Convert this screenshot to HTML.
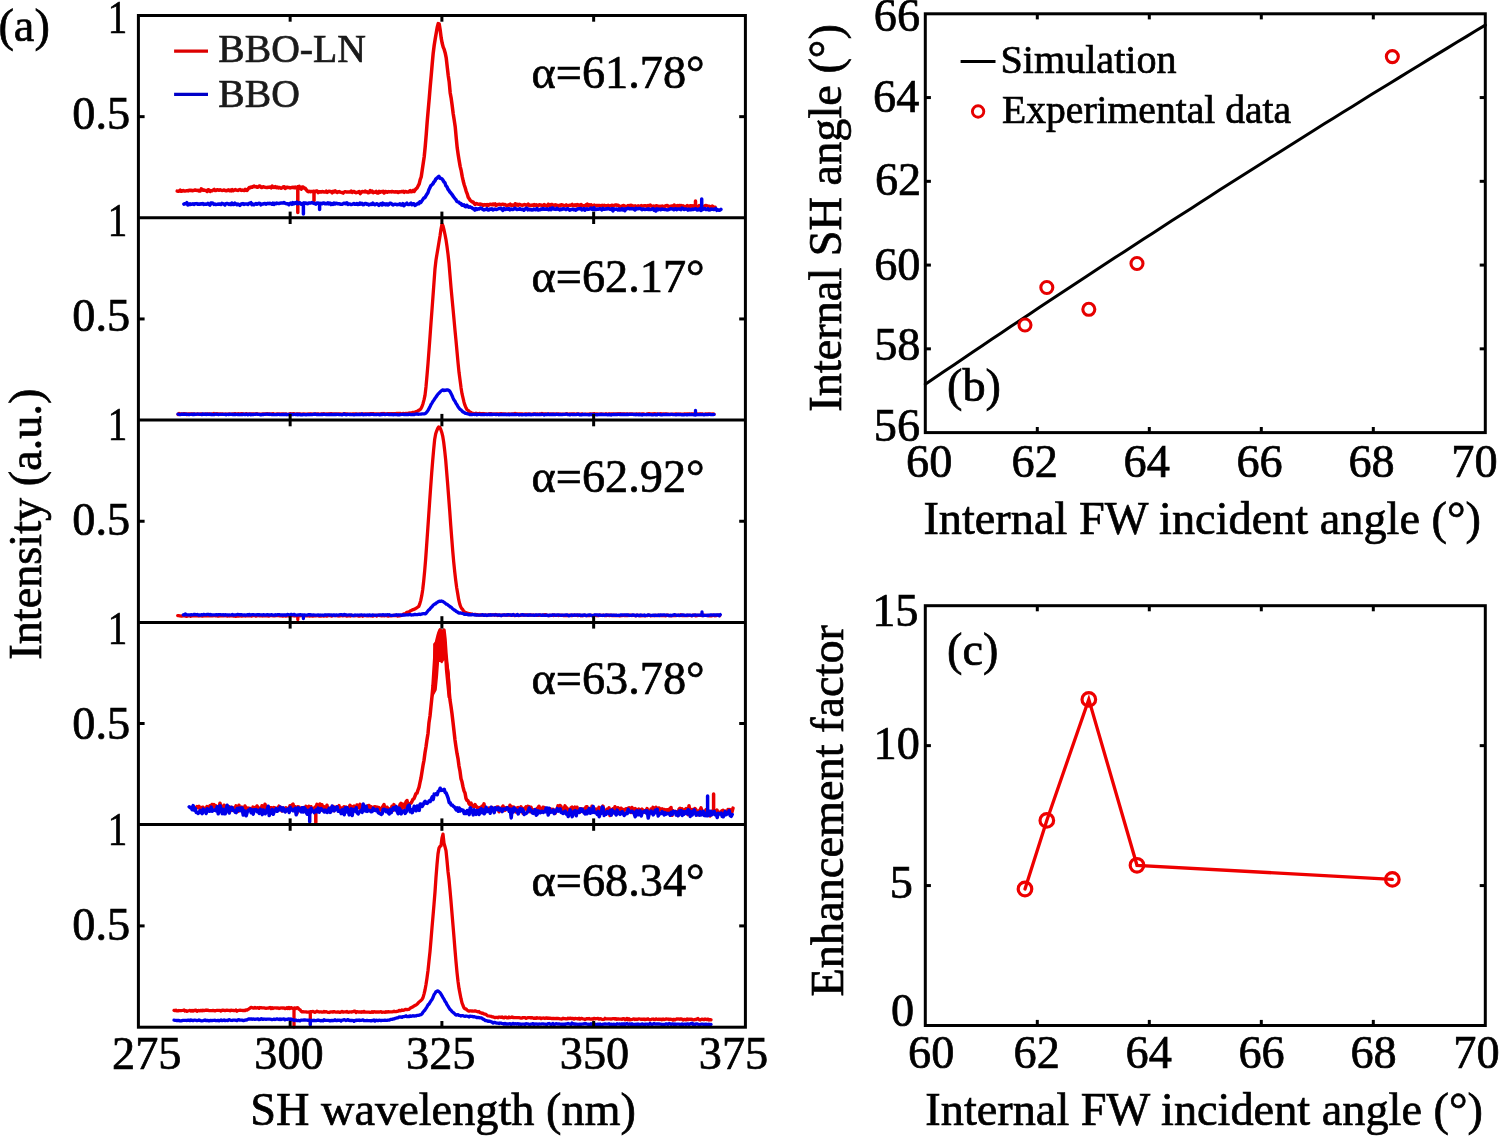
<!DOCTYPE html>
<html><head><meta charset="utf-8"><style>
html,body{margin:0;padding:0;background:#fff;}
svg{display:block;will-change:transform;}
text{font-family:"Liberation Serif",serif;}
</style></head><body>
<svg width="1500" height="1136" viewBox="0 0 1500 1136">
<rect width="1500" height="1136" fill="#fff"/>
<polyline points="177.2,191.1 178.2,191.3 179.2,191.0 180.2,190.1 181.2,191.3 182.2,191.0 183.2,190.4 184.2,191.0 185.2,190.9 186.2,190.8 187.2,190.6 188.2,190.9 189.2,190.2 190.2,190.5 191.2,190.3 192.2,190.8 193.2,190.5 194.2,190.3 195.2,190.0 196.2,190.3 197.2,190.4 198.2,190.3 199.2,191.1 200.2,191.0 201.2,188.9 202.2,189.3 203.2,190.3 204.2,190.1 205.2,190.5 206.2,190.5 207.2,191.5 208.2,189.7 209.2,190.1 210.2,191.5 211.2,190.7 212.2,190.7 213.2,190.1 214.2,189.4 215.2,190.4 216.2,190.4 217.2,189.7 218.2,190.0 219.2,190.3 220.2,189.8 221.2,190.3 222.2,190.4 223.2,190.3 224.2,190.0 225.2,190.6 226.2,190.8 227.2,190.5 228.2,189.9 229.2,190.7 230.2,190.0 231.2,190.8 232.2,189.7 233.2,190.8 234.2,190.3 235.2,189.6 236.2,190.1 237.2,190.3 238.2,190.4 239.2,189.7 240.2,189.6 241.2,190.4 242.2,190.0 243.2,190.4 244.2,190.6 245.2,189.3 246.2,190.3 247.2,190.4 248.2,188.8 249.2,187.6 250.2,187.7 251.2,187.0 252.2,187.3 253.2,186.6 254.2,186.0 255.2,186.8 256.2,186.6 257.2,187.3 258.2,187.0 259.2,186.0 260.2,186.3 261.2,187.4 262.2,187.4 263.2,186.7 264.2,187.1 265.2,187.3 266.2,187.4 267.2,187.6 268.2,187.3 269.2,187.2 270.2,187.1 271.2,187.9 272.2,186.1 273.2,187.3 274.2,187.4 275.2,186.6 276.2,187.6 277.2,187.1 278.2,187.9 279.2,187.4 280.2,187.9 281.2,188.2 282.2,187.7 283.2,187.0 284.2,186.7 285.2,188.5 286.2,187.5 287.2,187.2 288.2,187.6 289.2,187.5 290.2,188.0 291.2,187.6 292.2,187.6 293.2,187.2 294.2,187.8 295.2,187.0 296.2,188.0 297.2,188.4 297.8,186.8 297.8,212.6 297.8,186.8 299.2,186.3 300.2,188.0 301.2,189.1 302.2,187.1 303.2,187.0 304.2,188.2 305.2,188.3 306.2,189.8 307.2,190.9 308.2,191.8 309.2,191.3 310.2,191.7 311.2,191.5 314.0,191.2 314.0,200.8 314.0,191.2 313.2,191.5 314.2,191.2 315.2,191.7 316.2,191.1 317.2,191.1 318.2,192.6 319.2,191.8 320.2,191.8 321.2,192.1 322.2,191.6 323.2,191.7 324.2,192.1 325.2,192.0 326.2,191.2 327.2,192.4 328.2,191.6 329.2,191.3 330.2,191.4 331.2,191.7 332.2,192.8 333.2,191.3 334.2,192.0 335.2,190.8 336.2,192.0 337.2,192.5 338.2,191.8 339.2,191.6 340.2,192.1 341.2,192.4 342.2,192.4 343.2,193.1 344.2,192.1 345.2,191.7 346.2,191.9 347.2,192.0 348.2,192.1 349.2,192.0 350.2,192.1 351.2,191.1 352.2,192.5 353.2,191.7 354.2,191.4 355.2,192.4 356.2,192.7 357.2,192.3 358.2,192.1 359.2,191.5 360.2,193.6 361.2,192.5 362.2,191.4 363.2,191.6 364.2,192.0 365.2,191.1 366.2,192.1 367.2,191.7 368.2,192.7 369.2,192.5 370.2,190.5 371.2,192.0 372.2,191.1 373.2,192.6 374.2,192.1 375.2,192.3 376.2,191.4 377.2,193.0 378.2,193.1 379.2,191.4 380.2,192.2 381.2,191.6 382.2,192.0 383.2,191.3 384.2,193.0 385.2,191.5 386.2,191.8 387.2,192.3 388.2,191.6 389.2,191.9 390.2,191.7 391.2,191.9 392.2,191.4 393.2,191.8 394.2,191.9 395.2,191.8 396.2,192.0 397.2,191.8 398.2,192.4 399.2,191.8 400.2,191.9 401.2,191.6 402.2,191.7 403.2,191.3 404.2,192.3 405.2,191.4 406.2,191.6 407.2,192.1 408.2,192.1 409.2,191.6 410.2,190.6 411.2,191.8 412.2,191.5 413.2,190.4 414.2,191.4 415.2,189.9 416.2,188.6 417.2,187.8 418.2,185.8 419.2,183.9 420.2,179.7 421.2,177.0 422.2,170.2 423.2,163.5 424.2,156.7 425.2,146.8 426.2,134.9 427.2,121.6 428.2,110.2 429.2,98.9 430.2,86.7 431.2,75.7 432.2,64.0 433.2,53.2 434.2,45.3 435.2,39.0 436.2,33.2 437.2,27.5 438.2,23.6 439.2,23.9 440.2,30.2 441.2,38.1 442.2,43.3 443.2,47.1 444.2,49.4 445.2,52.9 446.2,57.8 447.2,66.6 448.2,75.3 449.2,82.1 450.2,93.0 451.2,98.4 452.2,105.7 453.2,113.7 454.2,120.1 455.2,126.7 456.2,137.6 457.2,147.8 458.2,154.8 459.2,160.9 460.2,166.6 461.2,170.7 462.2,176.4 463.2,181.0 464.2,184.7 465.2,187.7 466.2,191.3 467.2,193.8 468.2,197.2 469.2,198.7 470.2,200.4 471.2,201.1 472.2,202.0 473.2,202.1 474.2,203.4 475.2,204.4 476.2,203.6 477.2,203.7 478.2,204.2 479.2,204.2 480.2,204.1 481.2,204.6 482.2,204.4 483.2,205.4 484.2,204.6 485.2,204.8 486.2,205.2 487.2,204.5 488.2,205.5 489.2,204.4 490.2,204.3 491.2,204.5 492.2,204.7 493.2,204.0 494.2,204.7 495.2,203.8 496.2,205.5 497.2,204.7 498.2,204.4 499.2,204.3 500.2,204.6 501.2,204.7 502.2,204.2 503.2,204.3 504.2,204.7 505.2,204.6 506.2,205.4 507.2,205.5 508.2,204.9 509.2,205.1 510.2,204.2 511.2,205.3 512.2,204.9 513.2,205.2 514.2,205.8 515.2,203.7 516.2,205.1 517.2,204.4 518.2,205.3 519.2,204.3 520.2,204.7 521.2,205.1 522.2,205.3 523.2,205.0 524.2,204.6 525.2,204.7 526.2,205.5 527.2,205.0 528.2,204.1 529.2,205.5 530.2,205.3 531.2,205.5 532.2,204.9 533.2,205.5 534.2,204.5 535.2,205.4 536.2,204.8 537.2,205.5 538.2,205.7 539.2,204.7 540.2,205.1 541.2,205.1 542.2,205.8 543.2,205.5 544.2,204.5 545.2,205.4 546.2,205.6 547.2,206.3 548.2,204.2 549.2,204.9 550.2,205.9 551.2,204.4 552.2,204.5 553.2,205.5 554.2,205.8 555.2,204.8 556.2,205.5 557.2,205.3 558.2,206.1 559.2,205.2 560.2,205.8 561.2,204.7 562.2,205.1 563.2,205.2 564.2,205.9 565.2,205.6 566.2,204.9 567.2,205.7 568.2,205.7 569.2,205.2 570.2,205.2 571.2,205.2 572.2,204.4 573.2,205.4 574.2,205.4 575.2,204.8 576.2,205.7 577.2,204.6 578.2,205.0 579.2,205.1 580.2,206.4 581.2,204.5 582.2,205.7 583.2,205.9 584.2,205.6 585.2,206.0 586.2,204.8 587.2,204.1 588.2,205.8 589.2,204.8 590.2,205.2 591.2,204.8 592.2,206.0 593.2,205.9 594.2,205.1 595.2,206.0 596.2,205.5 597.2,205.4 598.2,205.5 599.2,205.4 600.2,205.8 601.2,205.7 602.2,205.3 603.2,206.1 604.2,205.2 605.2,205.7 606.2,205.8 607.2,206.4 608.2,205.3 609.2,206.5 610.2,205.7 611.2,205.5 612.2,205.2 613.2,205.9 614.2,205.6 615.2,205.0 616.2,205.0 617.2,205.3 618.2,205.3 619.2,206.3 620.2,206.4 621.2,206.2 622.2,205.9 623.2,205.5 624.2,205.7 625.2,206.2 626.2,206.9 627.2,206.2 628.2,205.6 629.2,205.8 630.2,205.5 631.2,205.3 632.2,205.7 633.2,205.9 634.2,206.8 635.2,205.8 636.2,206.6 637.2,206.8 638.2,205.9 639.2,206.7 640.2,206.3 641.2,205.6 642.2,206.0 643.2,205.9 644.2,205.8 645.2,205.8 646.2,206.0 647.2,206.2 648.2,205.5 649.2,205.9 650.2,205.1 651.2,206.1 652.2,206.3 653.2,206.1 654.2,206.2 655.2,206.3 656.2,205.7 657.2,205.9 658.2,206.3 659.2,206.6 660.2,206.3 661.2,207.5 662.2,206.0 663.2,206.6 664.2,206.8 665.2,206.0 666.2,205.7 667.2,205.5 668.2,206.2 669.2,206.8 670.2,206.3 671.2,206.3 672.2,206.0 673.2,206.5 674.2,205.0 675.2,206.4 676.2,206.3 677.2,205.5 678.2,207.5 679.2,205.5 680.2,205.7 681.2,205.6 682.2,206.9 683.2,205.8 684.2,206.7 685.2,206.7 686.2,206.5 687.2,205.6 688.2,206.0 689.2,207.3 690.2,205.7 695.5,206.0 695.5,201.0 695.5,206.0 692.2,206.3 693.2,206.9 694.2,206.6 695.2,206.9 696.2,205.9 697.2,207.0 698.2,206.8 699.2,205.6 700.2,207.4 701.2,207.8 702.2,206.1 703.2,206.6 704.2,207.3 705.2,205.8 706.2,205.5 707.2,205.9 708.2,206.3 709.2,206.3 710.2,207.0 711.2,206.8 712.2,206.0 713.2,207.0 714.2,207.7 715.2,207.3" fill="none" stroke="#ea0000" stroke-width="3.5" stroke-linejoin="round" stroke-linecap="round"/>
<polyline points="183.9,204.1 184.9,203.7 185.9,203.8 186.9,202.7 187.9,205.0 188.9,204.6 189.9,203.8 190.9,204.4 191.9,204.2 192.9,203.7 193.9,204.5 194.9,203.8 195.9,203.8 196.9,203.6 197.9,204.3 198.9,203.9 199.9,204.3 200.9,203.7 201.9,204.1 202.9,203.5 203.9,204.5 204.9,204.1 205.9,204.2 206.9,204.2 207.9,203.4 208.9,204.4 209.9,205.1 210.9,203.1 211.9,203.0 212.9,203.2 213.9,204.5 214.9,204.1 215.9,204.6 216.9,204.4 217.9,204.1 218.9,204.2 219.9,203.9 220.9,204.5 221.9,203.4 222.9,203.8 223.9,204.1 224.9,205.0 225.9,203.6 226.9,203.4 227.9,203.7 228.9,204.5 229.9,203.9 230.9,204.7 231.9,203.0 232.9,204.6 233.9,204.6 234.9,203.2 235.9,204.1 236.9,204.7 237.9,204.0 238.9,204.5 239.9,205.3 240.9,204.2 241.9,203.8 242.9,203.6 243.9,204.4 244.9,203.9 245.9,203.9 246.9,203.9 247.9,204.4 248.9,203.4 249.9,203.2 250.9,202.7 251.9,204.7 252.9,204.0 253.9,204.8 254.9,204.0 255.9,203.6 256.9,204.2 257.9,203.9 258.9,203.2 259.9,203.4 260.9,204.9 261.9,204.1 262.9,204.1 263.9,203.7 264.9,203.4 265.9,204.3 266.9,203.7 267.9,203.3 268.9,203.7 269.9,203.2 270.9,203.8 271.9,204.3 272.9,203.2 273.9,204.4 274.9,203.2 275.9,203.7 276.9,203.1 277.9,203.4 278.9,203.5 279.9,203.2 280.9,203.1 281.9,203.1 282.9,203.0 283.9,202.5 284.9,203.2 285.9,203.6 286.9,203.8 287.9,203.7 288.9,204.7 289.9,203.5 290.9,203.0 291.9,204.3 292.9,202.7 293.9,203.8 294.9,202.7 295.9,203.4 296.9,202.1 297.9,203.7 298.9,203.1 299.9,202.7 300.9,204.1 301.9,203.6 303.4,203.2 303.4,213.9 303.4,203.2 303.9,202.8 304.9,203.2 305.9,203.1 306.9,203.6 307.9,203.7 308.9,202.9 309.9,203.0 310.9,203.0 311.9,202.6 312.9,203.0 313.9,203.3 314.9,203.7 315.9,204.1 316.9,202.9 319.6,203.7 319.6,209.5 319.6,203.7 318.9,203.2 319.9,204.6 320.9,203.4 321.9,203.8 322.9,203.0 323.9,203.1 324.9,203.7 325.9,203.4 326.9,203.8 327.9,202.8 328.9,204.0 329.9,203.2 330.9,204.6 331.9,203.5 332.9,204.3 333.9,203.0 334.9,204.0 335.9,203.3 336.9,203.5 337.9,203.8 338.9,203.7 339.9,204.0 340.9,204.3 341.9,204.3 342.9,203.9 343.9,203.2 344.9,203.5 345.9,203.8 346.9,202.8 347.9,204.4 348.9,203.9 349.9,203.9 350.9,204.5 351.9,204.4 352.9,204.1 353.9,203.5 354.9,204.2 355.9,204.2 356.9,203.6 357.9,204.6 358.9,204.4 359.9,203.0 360.9,204.2 361.9,203.4 362.9,204.7 363.9,204.6 364.9,203.5 365.9,203.6 366.9,204.2 367.9,204.0 368.9,205.0 369.9,204.6 370.9,204.0 371.9,204.5 372.9,203.1 373.9,204.4 374.9,204.7 375.9,204.1 376.9,203.8 377.9,204.5 378.9,205.3 379.9,204.3 380.9,203.6 381.9,205.0 382.9,203.2 383.9,204.5 384.9,203.9 385.9,204.8 386.9,203.8 387.9,205.0 388.9,204.4 389.9,203.3 390.9,203.2 391.9,204.1 392.9,205.0 393.9,204.4 394.9,204.3 395.9,204.2 396.9,204.7 397.9,204.5 398.9,204.4 399.9,203.8 400.9,205.0 401.9,205.0 402.9,203.6 403.9,205.6 404.9,204.7 405.9,204.0 406.9,203.2 407.9,204.6 408.9,204.5 409.9,203.9 410.9,203.2 411.9,204.7 412.9,203.7 413.9,203.7 414.9,205.4 415.9,205.0 416.9,204.2 417.9,203.3 418.9,203.8 419.9,201.9 420.9,202.4 421.9,200.9 422.9,199.4 423.9,197.9 424.9,197.7 425.9,195.9 426.9,194.2 427.9,192.7 428.9,189.8 429.9,187.7 430.9,185.6 431.9,184.8 432.9,183.9 433.9,181.9 434.9,180.9 435.9,178.9 436.9,178.2 437.9,177.2 438.9,176.4 439.9,178.2 440.9,178.4 441.9,178.8 442.9,180.1 443.9,181.9 444.9,182.8 445.9,185.8 446.9,186.7 447.9,189.1 448.9,190.4 449.9,192.1 450.9,193.1 451.9,194.3 452.9,195.9 453.9,197.2 454.9,198.5 455.9,199.7 456.9,201.5 457.9,201.9 458.9,202.2 459.9,203.5 460.9,203.4 461.9,205.2 462.9,205.3 463.9,204.8 464.9,206.4 465.9,206.8 466.9,205.3 467.9,206.7 468.9,207.2 469.9,206.7 470.9,207.4 471.9,207.7 472.9,208.7 473.9,208.8 474.9,210.1 475.9,208.5 476.9,209.4 477.9,208.9 478.9,209.1 479.9,208.3 480.9,208.0 481.9,208.6 482.9,209.5 483.9,210.0 484.9,209.5 485.9,209.4 486.9,208.7 487.9,210.0 488.9,209.9 489.9,208.9 490.9,209.2 491.9,208.7 492.9,210.0 493.9,209.4 494.9,209.1 495.9,209.4 496.9,209.4 497.9,209.0 498.9,208.5 499.9,208.5 500.9,208.2 501.9,209.5 502.9,210.4 503.9,208.3 504.9,209.3 505.9,209.4 506.9,208.7 507.9,209.3 508.9,208.6 509.9,209.9 510.9,208.9 511.9,209.3 512.9,209.6 513.9,209.0 514.9,208.2 515.9,208.9 516.9,209.6 517.9,209.2 518.9,209.3 519.9,208.6 520.9,209.3 521.9,209.6 522.9,209.2 523.9,210.2 524.9,209.1 525.9,208.6 526.9,208.3 527.9,209.8 528.9,209.2 529.9,209.8 530.9,209.5 531.9,210.1 532.9,209.9 533.9,209.0 534.9,209.4 535.9,209.8 536.9,208.5 537.9,210.0 538.9,209.9 539.9,209.7 540.9,209.1 541.9,209.4 542.9,208.6 543.9,209.2 544.9,208.9 545.9,209.2 546.9,208.9 547.9,209.4 548.9,209.8 549.9,208.5 550.9,209.7 551.9,208.1 552.9,208.0 553.9,209.1 554.9,209.2 555.9,209.4 556.9,208.3 557.9,209.2 558.9,209.3 559.9,209.9 560.9,209.1 561.9,209.5 562.9,208.7 563.9,209.1 564.9,209.0 565.9,209.6 566.9,208.7 567.9,208.7 568.9,209.5 569.9,210.2 570.9,209.4 571.9,209.4 572.9,209.0 573.9,209.8 574.9,209.5 575.9,210.2 576.9,209.4 577.9,208.7 578.9,208.9 579.9,208.7 580.9,208.5 581.9,209.9 582.9,209.6 583.9,208.5 584.9,210.2 585.9,209.3 586.9,208.7 587.9,209.4 588.9,209.2 589.9,208.8 590.9,208.1 591.9,209.2 592.9,209.4 593.9,207.8 594.9,209.5 595.9,209.5 596.9,208.9 597.9,209.3 598.9,209.0 599.9,208.7 600.9,209.0 601.9,209.9 602.9,208.4 603.9,209.3 604.9,209.3 605.9,208.8 606.9,209.0 607.9,208.4 608.9,208.7 609.9,209.2 610.9,209.4 611.9,208.7 612.9,210.9 613.9,208.9 614.9,209.3 615.9,209.1 616.9,209.0 617.9,209.9 618.9,208.9 619.9,209.9 620.9,209.8 621.9,208.6 622.9,209.8 623.9,208.9 624.9,210.7 625.9,209.0 626.9,208.7 627.9,208.2 628.9,208.5 629.9,208.9 630.9,208.7 631.9,208.6 632.9,208.8 633.9,209.1 634.9,210.0 635.9,208.3 636.9,208.9 637.9,208.7 638.9,208.4 639.9,208.5 640.9,208.7 641.9,209.6 642.9,209.1 643.9,209.0 644.9,209.6 645.9,209.4 646.9,209.1 647.9,209.5 648.9,208.8 649.9,209.6 650.9,209.5 651.9,209.0 652.9,208.6 653.9,210.1 654.9,209.3 655.9,211.0 656.9,208.9 657.9,209.8 658.9,209.0 659.9,209.4 660.9,209.8 661.9,208.9 662.9,209.2 663.9,209.4 664.9,209.4 665.9,209.6 666.9,209.9 667.9,209.8 668.9,209.5 669.9,209.1 670.9,208.7 671.9,208.9 672.9,209.0 673.9,209.7 674.9,209.1 675.9,208.7 676.9,209.7 677.9,208.9 678.9,208.9 679.9,209.2 680.9,209.6 681.9,208.0 682.9,208.7 683.9,209.5 684.9,209.2 685.9,208.9 686.9,209.1 687.9,210.1 688.9,209.1 689.9,209.8 690.9,209.8 691.9,209.1 692.9,209.6 693.9,209.2 694.9,209.1 695.9,208.8 696.9,209.9 701.7,209.2 701.7,199.0 701.7,209.2 698.9,209.1 699.9,208.8 700.9,210.4 701.9,209.8 702.9,209.4 703.9,209.1 704.9,208.6 705.9,209.6 706.9,209.6 707.9,208.7 708.9,210.1 709.9,209.9 710.9,208.9 711.9,209.2 712.9,209.2 713.9,209.6 714.9,209.4 715.9,208.6 716.9,210.3 717.9,209.7 718.9,210.2 719.9,210.2 720.9,209.4" fill="none" stroke="#0000ea" stroke-width="3.5" stroke-linejoin="round" stroke-linecap="round"/>
<polyline points="178.0,414.4 179.0,413.5 180.0,414.1 181.0,413.9 182.0,413.9 183.0,414.0 184.0,413.6 185.0,414.0 186.0,413.8 187.0,414.6 188.0,414.0 189.0,413.9 190.0,413.9 191.0,413.9 192.0,413.8 193.0,413.9 194.0,414.1 195.0,414.0 196.0,414.2 197.0,414.0 198.0,414.0 199.0,414.3 200.0,414.1 201.0,413.9 202.0,414.0 203.0,414.1 204.0,414.3 205.0,414.0 206.0,414.0 207.0,414.2 208.0,413.8 209.0,413.9 210.0,414.2 211.0,414.1 212.0,414.0 213.0,414.1 214.0,413.5 215.0,414.2 216.0,413.8 217.0,413.7 218.0,414.0 219.0,414.1 220.0,413.9 221.0,413.8 222.0,414.0 223.0,414.0 224.0,414.3 225.0,414.1 226.0,414.0 227.0,414.2 228.0,414.0 229.0,413.8 230.0,414.1 231.0,414.1 232.0,414.0 233.0,413.9 234.0,414.0 235.0,413.6 236.0,414.1 237.0,414.1 238.0,413.7 239.0,414.0 240.0,413.8 241.0,414.1 242.0,413.6 243.0,413.8 244.0,414.1 245.0,414.2 246.0,413.6 247.0,413.9 248.0,414.1 249.0,413.9 250.0,414.3 251.0,413.8 252.0,414.1 253.0,413.8 254.0,414.3 255.0,414.0 256.0,413.9 257.0,413.7 258.0,414.3 259.0,414.1 260.0,414.1 261.0,414.2 262.0,414.1 263.0,413.9 264.0,413.9 265.0,413.9 266.0,414.2 267.0,413.7 268.0,413.9 269.0,413.9 270.0,414.0 271.0,414.1 272.0,413.8 273.0,413.7 274.0,414.0 275.0,414.2 276.0,414.1 277.0,414.0 278.0,413.9 279.0,414.1 280.0,414.0 281.0,414.1 282.0,413.9 283.0,414.0 284.0,414.0 285.0,414.1 286.0,414.0 287.0,414.5 288.0,414.3 289.0,414.3 290.0,413.6 291.0,413.9 292.0,413.9 293.0,414.1 294.0,413.6 295.0,414.2 296.0,414.2 297.0,413.8 298.0,413.8 299.0,413.9 300.0,414.0 301.0,414.1 302.0,414.4 303.0,414.0 304.0,414.1 305.0,414.0 306.0,414.3 307.0,414.1 308.0,414.2 309.0,413.8 310.0,414.0 311.0,413.9 312.0,414.3 313.0,414.1 314.0,413.9 315.0,413.9 316.0,414.1 317.0,413.9 318.0,413.8 319.0,414.1 320.0,414.4 321.0,413.9 322.0,413.9 323.0,413.8 324.0,413.7 325.0,414.1 326.0,414.1 327.0,414.0 328.0,414.0 329.0,414.0 330.0,414.0 331.0,413.7 332.0,413.9 333.0,414.0 334.0,413.8 335.0,413.9 336.0,413.8 337.0,413.9 338.0,414.1 339.0,413.9 340.0,413.9 341.0,414.1 342.0,414.1 343.0,414.3 344.0,413.6 345.0,414.1 346.0,413.9 347.0,414.0 348.0,414.1 349.0,414.1 350.0,414.1 351.0,414.0 352.0,414.2 353.0,413.9 354.0,413.9 355.0,414.1 356.0,413.8 357.0,414.3 358.0,414.1 359.0,414.3 360.0,413.9 361.0,413.8 362.0,413.9 363.0,414.0 364.0,413.8 365.0,414.0 366.0,413.9 367.0,414.2 368.0,413.8 369.0,414.1 370.0,413.7 371.0,413.7 372.0,413.7 373.0,413.6 374.0,413.9 375.0,414.0 376.0,413.9 377.0,413.9 378.0,414.1 379.0,413.9 380.0,413.8 381.0,413.7 382.0,413.5 383.0,413.9 384.0,413.5 385.0,413.9 386.0,413.8 387.0,414.0 388.0,413.7 389.0,413.6 390.0,413.8 391.0,413.6 392.0,413.7 393.0,413.7 394.0,413.7 395.0,413.7 396.0,413.5 397.0,413.6 398.0,413.3 399.0,413.6 400.0,413.4 401.0,413.8 402.0,413.9 403.0,413.3 404.0,413.6 405.0,413.6 406.0,413.4 407.0,413.6 408.0,413.3 409.0,413.0 410.0,413.1 411.0,412.9 412.0,412.8 413.0,412.3 414.0,412.4 415.0,412.2 416.0,411.5 417.0,411.3 418.0,410.9 419.0,410.1 420.0,409.7 421.0,408.4 422.0,406.5 423.0,403.7 424.0,399.9 425.0,395.4 426.0,386.7 427.0,375.5 428.0,363.7 429.0,350.3 430.0,336.8 431.0,322.8 432.0,309.6 433.0,296.2 434.0,282.4 435.0,268.7 436.0,260.0 437.0,253.9 438.0,248.1 439.0,241.9 440.0,236.0 441.0,229.0 442.0,224.2 443.0,225.9 444.0,230.0 445.0,234.5 446.0,239.8 447.0,246.5 448.0,254.1 449.0,263.3 450.0,275.4 451.0,287.4 452.0,298.1 453.0,308.6 454.0,319.4 455.0,330.4 456.0,340.7 457.0,351.5 458.0,362.4 459.0,372.3 460.0,379.8 461.0,387.4 462.0,393.7 463.0,397.9 464.0,402.2 465.0,405.4 466.0,407.8 467.0,409.7 468.0,410.3 469.0,411.2 470.0,412.3 471.0,412.4 472.0,413.3 473.0,413.3 474.0,413.7 475.0,413.6 476.0,413.2 477.0,413.6 478.0,413.7 479.0,413.5 480.0,413.5 481.0,413.9 482.0,413.7 483.0,413.5 484.0,413.7 485.0,414.0 486.0,413.8 487.0,414.1 488.0,414.2 489.0,413.9 490.0,413.7 491.0,413.7 492.0,414.0 493.0,414.1 494.0,414.0 495.0,414.1 496.0,413.9 497.0,414.0 498.0,413.9 499.0,413.9 500.0,413.8 501.0,413.7 502.0,413.9 503.0,413.8 504.0,413.8 505.0,414.1 506.0,414.0 507.0,414.5 508.0,414.2 509.0,413.9 510.0,414.1 511.0,414.1 512.0,413.9 513.0,414.2 514.0,413.9 515.0,413.4 516.0,414.1 517.0,413.9 518.0,414.3 519.0,413.9 520.0,413.8 521.0,414.3 522.0,413.8 523.0,414.0 524.0,414.3 525.0,414.0 526.0,414.0 527.0,414.0 528.0,414.2 529.0,413.9 530.0,414.1 531.0,414.1 532.0,414.4 533.0,413.9 534.0,413.8 535.0,414.1 536.0,413.9 537.0,414.1 538.0,414.0 539.0,414.2 540.0,413.9 541.0,414.0 542.0,413.5 543.0,413.8 544.0,414.3 545.0,413.9 546.0,413.9 547.0,413.8 548.0,414.1 549.0,414.0 550.0,413.8 551.0,414.1 552.0,414.0 553.0,414.1 554.0,413.9 555.0,414.3 556.0,414.1 557.0,414.0 558.0,413.9 559.0,414.0 560.0,414.2 561.0,414.0 562.0,414.2 563.0,414.1 564.0,414.2 565.0,414.1 566.0,414.0 567.0,413.7 568.0,414.1 569.0,414.1 570.0,414.0 571.0,414.1 572.0,413.9 573.0,413.9 574.0,413.8 575.0,414.2 576.0,414.0 577.0,413.9 578.0,413.8 579.0,414.0 580.0,414.3 581.0,414.1 582.0,413.9 583.0,414.3 584.0,414.3 585.0,414.2 586.0,414.1 587.0,414.2 588.0,414.1 589.0,414.1 590.0,413.9 591.0,414.3 592.0,414.0 593.0,414.4 594.0,413.6 595.0,414.1 596.0,414.2 597.0,413.9 598.0,414.1 599.0,414.1 600.0,414.1 601.0,413.9 602.0,414.0 603.0,414.2 604.0,414.2 605.0,414.0 606.0,414.0 607.0,414.0 608.0,414.2 609.0,413.8 610.0,413.8 611.0,414.0 612.0,413.8 613.0,413.9 614.0,414.0 615.0,414.1 616.0,413.8 617.0,414.1 618.0,413.7 619.0,414.1 620.0,413.7 621.0,413.8 622.0,414.1 623.0,413.9 624.0,413.9 625.0,413.9 626.0,414.1 627.0,414.0 628.0,414.0 629.0,414.2 630.0,413.9 631.0,413.9 632.0,413.9 633.0,414.2 634.0,414.2 635.0,414.2 636.0,414.0 637.0,414.0 638.0,414.2 639.0,413.9 640.0,414.1 641.0,414.1 642.0,413.9 643.0,414.0 644.0,414.0 645.0,414.3 646.0,414.5 647.0,414.0 648.0,414.0 649.0,413.6 650.0,414.0 651.0,414.0 652.0,413.8 653.0,414.1 654.0,413.7 655.0,414.0 656.0,414.0 657.0,413.8 658.0,414.2 659.0,414.2 660.0,413.8 661.0,413.7 662.0,414.1 663.0,414.0 664.0,413.8 665.0,413.9 666.0,414.0 667.0,414.0 668.0,414.1 669.0,414.1 670.0,414.3 671.0,414.2 672.0,414.1 673.0,414.2 674.0,414.2 675.0,414.1 676.0,413.8 677.0,414.2 678.0,414.0 679.0,414.3 680.0,414.0 681.0,414.1 682.0,414.1 683.0,414.3 684.0,414.0 685.0,414.0 686.0,414.1 687.0,413.9 688.0,414.0 689.0,414.0 690.0,414.0 691.0,414.3 692.0,413.9 693.0,414.0 694.0,414.0 695.0,414.1 696.0,413.8 697.0,413.9 698.0,414.0 699.0,414.1 700.0,414.0 701.0,413.9 702.0,413.8 703.0,414.1 704.0,414.3 705.0,414.1 706.0,414.0 707.0,414.1 708.0,413.8 709.0,413.9 710.0,414.0 711.0,414.1 712.0,414.0 713.0,413.8 714.0,414.2" fill="none" stroke="#ea0000" stroke-width="3.3" stroke-linejoin="round" stroke-linecap="round"/>
<polyline points="178.0,414.2 179.0,414.3 180.0,414.6 181.0,414.4 182.0,414.0 183.0,414.3 184.0,414.2 185.0,414.3 186.0,414.0 187.0,414.4 188.0,414.4 189.0,414.6 190.0,414.4 191.0,414.4 192.0,414.1 193.0,414.7 194.0,414.0 195.0,414.5 196.0,414.3 197.0,414.2 198.0,414.2 199.0,414.2 200.0,414.4 201.0,414.3 202.0,414.6 203.0,414.0 204.0,414.4 205.0,414.2 206.0,414.5 207.0,414.0 208.0,414.3 209.0,414.4 210.0,414.1 211.0,414.6 212.0,414.4 213.0,414.6 214.0,414.6 215.0,414.2 216.0,414.2 217.0,414.3 218.0,414.5 219.0,414.5 220.0,414.3 221.0,414.3 222.0,414.3 223.0,414.3 224.0,414.4 225.0,414.4 226.0,414.8 227.0,414.3 228.0,414.4 229.0,414.5 230.0,414.2 231.0,414.3 232.0,414.4 233.0,414.6 234.0,414.2 235.0,414.7 236.0,414.4 237.0,414.4 238.0,414.6 239.0,414.5 240.0,414.6 241.0,414.5 242.0,414.4 243.0,414.5 244.0,414.2 245.0,414.6 246.0,414.3 247.0,414.2 248.0,414.8 249.0,414.4 250.0,414.2 251.0,414.8 252.0,414.4 253.0,414.6 254.0,414.3 255.0,414.4 256.0,414.1 257.0,414.1 258.0,414.3 259.0,414.4 260.0,414.6 261.0,414.9 262.0,414.3 263.0,414.6 264.0,414.3 265.0,414.4 266.0,414.2 267.0,414.2 268.0,414.3 269.0,414.2 270.0,414.5 271.0,414.3 272.0,414.7 273.0,414.5 274.0,414.5 275.0,414.7 276.0,414.6 277.0,414.5 278.0,414.4 279.0,414.4 280.0,414.7 281.0,414.6 282.0,414.5 283.0,414.6 284.0,414.4 285.0,414.6 286.0,414.2 287.0,414.7 288.0,414.5 289.0,414.5 290.0,414.6 291.0,414.5 292.0,414.4 293.0,414.7 294.0,414.5 295.0,414.3 296.0,414.6 297.0,414.2 298.0,414.8 299.0,414.4 300.0,414.5 301.0,414.9 302.0,414.9 303.0,414.5 304.0,414.6 305.0,414.7 306.0,414.8 307.0,414.5 308.0,414.5 309.0,414.7 310.0,414.5 311.0,414.6 312.0,414.6 313.0,414.3 314.0,414.3 315.0,414.0 316.0,414.4 317.0,414.7 318.0,414.3 319.0,414.7 320.0,414.7 321.0,414.5 322.0,414.5 323.0,414.5 324.0,414.3 325.0,414.4 326.0,414.5 327.0,414.6 328.0,414.6 329.0,414.4 330.0,414.6 331.0,414.4 332.0,414.5 333.0,414.6 334.0,414.5 335.0,414.5 336.0,414.5 337.0,414.4 338.0,414.4 339.0,414.5 340.0,414.7 341.0,414.5 342.0,414.8 343.0,414.5 344.0,414.0 345.0,414.4 346.0,414.8 347.0,414.5 348.0,414.4 349.0,414.3 350.0,414.7 351.0,414.7 352.0,414.6 353.0,414.6 354.0,414.8 355.0,414.6 356.0,414.3 357.0,414.6 358.0,414.5 359.0,414.5 360.0,414.6 361.0,414.5 362.0,414.0 363.0,414.8 364.0,414.7 365.0,414.5 366.0,414.4 367.0,414.5 368.0,414.3 369.0,414.6 370.0,414.5 371.0,414.4 372.0,414.3 373.0,414.4 374.0,414.7 375.0,414.7 376.0,414.6 377.0,414.5 378.0,414.3 379.0,414.6 380.0,414.8 381.0,414.2 382.0,414.7 383.0,414.1 384.0,414.4 385.0,414.6 386.0,414.3 387.0,414.2 388.0,414.5 389.0,414.7 390.0,414.4 391.0,414.7 392.0,414.4 393.0,414.8 394.0,414.5 395.0,414.5 396.0,414.6 397.0,414.6 398.0,414.8 399.0,414.9 400.0,414.6 401.0,414.5 402.0,414.3 403.0,414.4 404.0,414.5 405.0,414.5 406.0,414.5 407.0,414.5 408.0,414.6 409.0,414.2 410.0,414.3 411.0,414.6 412.0,414.6 413.0,414.3 414.0,414.6 415.0,414.2 416.0,414.2 417.0,413.9 418.0,414.3 419.0,414.1 420.0,414.2 421.0,414.1 422.0,413.9 423.0,413.8 424.0,413.9 425.0,413.6 426.0,413.0 427.0,411.9 428.0,410.4 429.0,408.6 430.0,406.8 431.0,404.5 432.0,403.1 433.0,401.2 434.0,399.9 435.0,398.3 436.0,397.0 437.0,395.5 438.0,394.1 439.0,393.2 440.0,392.1 441.0,391.0 442.0,390.3 443.0,389.9 444.0,390.6 445.0,390.1 446.0,390.3 447.0,389.9 448.0,389.9 449.0,390.4 450.0,391.6 451.0,393.6 452.0,395.5 453.0,397.9 454.0,399.9 455.0,401.2 456.0,403.4 457.0,404.8 458.0,406.6 459.0,408.0 460.0,409.3 461.0,409.9 462.0,411.0 463.0,412.0 464.0,412.3 465.0,413.1 466.0,413.4 467.0,413.6 468.0,414.0 469.0,414.2 470.0,414.6 471.0,414.5 472.0,414.6 473.0,414.4 474.0,414.4 475.0,414.5 476.0,414.1 477.0,414.8 478.0,414.4 479.0,414.3 480.0,414.4 481.0,414.7 482.0,414.7 483.0,414.4 484.0,414.6 485.0,414.5 486.0,414.3 487.0,414.6 488.0,414.5 489.0,414.2 490.0,414.7 491.0,414.2 492.0,414.6 493.0,414.3 494.0,414.4 495.0,414.4 496.0,414.7 497.0,414.3 498.0,414.5 499.0,414.8 500.0,414.4 501.0,414.5 502.0,414.7 503.0,414.4 504.0,414.6 505.0,414.4 506.0,414.7 507.0,414.5 508.0,414.4 509.0,414.8 510.0,414.5 511.0,414.5 512.0,414.4 513.0,414.5 514.0,414.5 515.0,414.6 516.0,414.7 517.0,414.3 518.0,414.5 519.0,414.8 520.0,414.6 521.0,414.6 522.0,414.8 523.0,414.6 524.0,414.6 525.0,414.5 526.0,414.9 527.0,414.7 528.0,414.4 529.0,414.7 530.0,414.3 531.0,414.8 532.0,414.7 533.0,414.5 534.0,414.5 535.0,414.2 536.0,414.7 537.0,414.5 538.0,414.5 539.0,414.7 540.0,414.4 541.0,414.5 542.0,414.4 543.0,414.3 544.0,415.0 545.0,414.5 546.0,414.5 547.0,414.7 548.0,414.0 549.0,414.6 550.0,414.6 551.0,414.4 552.0,414.6 553.0,414.2 554.0,414.6 555.0,414.7 556.0,414.2 557.0,414.3 558.0,414.5 559.0,414.6 560.0,414.4 561.0,414.6 562.0,414.6 563.0,414.3 564.0,414.5 565.0,414.3 566.0,414.2 567.0,414.1 568.0,414.7 569.0,414.5 570.0,414.9 571.0,414.3 572.0,414.5 573.0,414.6 574.0,414.5 575.0,414.6 576.0,414.6 577.0,414.4 578.0,414.1 579.0,414.4 580.0,414.9 581.0,414.7 582.0,414.8 583.0,414.4 584.0,414.5 585.0,414.4 586.0,414.6 587.0,414.6 588.0,414.6 589.0,414.9 590.0,414.4 591.0,414.7 592.0,414.3 593.0,414.8 594.0,414.5 595.0,414.6 596.0,414.6 597.0,414.9 598.0,414.6 599.0,414.5 600.0,414.4 601.0,414.6 602.0,414.4 603.0,414.5 604.0,414.6 605.0,414.7 606.0,414.4 607.0,414.7 608.0,414.9 609.0,414.3 610.0,414.8 611.0,415.0 612.0,414.5 613.0,414.7 614.0,414.3 615.0,414.6 616.0,414.5 617.0,414.6 618.0,414.4 619.0,414.4 620.0,414.5 621.0,414.4 622.0,414.5 623.0,414.5 624.0,414.4 625.0,414.5 626.0,414.7 627.0,414.2 628.0,414.6 629.0,414.4 630.0,414.4 631.0,414.3 632.0,414.4 633.0,414.4 634.0,414.6 635.0,414.3 636.0,414.8 637.0,414.4 638.0,414.7 639.0,414.8 640.0,414.3 641.0,414.8 642.0,415.0 643.0,414.5 644.0,414.7 645.0,414.6 646.0,414.6 647.0,414.5 648.0,414.5 649.0,414.7 650.0,414.7 651.0,414.6 652.0,414.9 653.0,414.8 654.0,414.7 655.0,414.5 656.0,414.9 657.0,414.8 658.0,414.2 659.0,414.4 660.0,414.5 661.0,414.8 662.0,414.8 663.0,414.5 664.0,414.6 665.0,414.7 666.0,414.4 667.0,414.7 668.0,414.5 669.0,414.6 670.0,414.6 671.0,414.4 672.0,414.4 673.0,414.6 674.0,414.6 675.0,414.6 676.0,414.8 677.0,414.5 678.0,414.4 679.0,414.5 680.0,414.6 681.0,414.6 682.0,414.8 683.0,414.7 684.0,414.8 685.0,414.7 686.0,414.6 687.0,414.8 688.0,414.6 689.0,414.6 690.0,414.4 691.0,414.6 692.0,414.5 693.0,414.7 694.0,414.9 695.5,415.0 695.5,410.5 695.5,415.0 696.0,414.8 697.0,414.6 698.0,414.7 699.0,414.6 700.0,414.5 701.0,414.6 702.0,414.6 703.0,414.5 704.0,414.9 705.0,414.5 706.0,414.5 707.0,414.7 708.0,414.5 709.0,414.4 710.0,414.4 711.0,414.7 712.0,414.7 713.0,414.7 714.0,414.5" fill="none" stroke="#0000ea" stroke-width="3.3" stroke-linejoin="round" stroke-linecap="round"/>
<polyline points="177.7,615.7 178.7,615.6 179.7,615.8 180.7,616.0 181.7,616.1 182.7,615.9 183.7,615.8 184.7,615.7 185.7,616.1 186.7,616.3 187.7,616.0 188.7,615.6 189.7,615.7 190.7,616.3 191.7,615.9 192.7,615.5 193.7,615.9 194.7,615.6 195.7,615.8 196.7,615.8 197.7,615.7 198.7,616.0 199.7,615.9 200.7,615.8 201.7,616.0 202.7,616.1 203.7,615.5 204.7,615.8 205.7,615.7 206.7,615.9 207.7,615.6 208.7,615.9 209.7,615.9 210.7,615.8 211.7,615.7 212.7,615.8 213.7,615.6 214.7,615.6 215.7,615.9 216.7,615.6 217.7,616.1 218.7,616.0 219.7,615.4 220.7,615.9 221.7,615.6 222.7,615.9 223.7,615.9 224.7,615.4 225.7,615.8 226.7,615.8 227.7,616.1 228.7,615.6 229.7,616.0 230.7,615.6 231.7,615.8 232.7,615.7 233.7,616.2 234.7,616.0 235.7,616.4 236.7,616.0 237.7,616.1 238.7,616.1 239.7,615.7 240.7,615.9 241.7,616.2 242.7,615.8 243.7,615.9 244.7,615.9 245.7,616.0 246.7,615.8 247.7,615.8 248.7,615.9 249.7,615.9 250.7,615.7 251.7,616.1 252.7,615.6 253.7,615.6 254.7,615.6 255.7,616.1 256.7,615.8 257.7,615.6 258.7,615.6 259.7,615.9 260.7,615.6 261.7,615.6 262.7,616.0 263.7,615.6 264.7,615.8 265.7,615.8 266.7,615.7 267.7,615.8 268.7,616.1 269.7,615.7 270.7,615.6 271.7,615.4 272.7,615.8 273.7,615.8 274.7,615.9 275.7,615.7 276.7,615.7 277.7,615.7 278.7,615.7 279.7,615.9 280.7,615.7 281.7,615.8 282.7,616.2 283.7,615.9 284.7,615.5 285.7,616.2 286.7,615.9 287.7,615.6 288.7,616.0 289.7,615.8 290.7,615.7 291.7,615.7 292.7,615.6 293.7,615.8 294.7,616.0 295.7,615.7 296.7,615.9 297.8,616.2 297.8,619.5 297.8,616.2 298.7,615.5 299.7,615.9 300.7,615.7 301.7,615.6 302.7,615.6 303.7,615.8 304.7,615.9 305.7,615.7 306.7,615.8 307.7,615.9 308.7,615.9 309.7,616.0 310.7,615.9 311.7,615.9 312.7,616.2 313.7,615.9 314.7,615.8 315.7,615.9 316.7,615.6 317.7,615.7 318.7,616.0 319.7,615.9 320.7,616.1 321.7,615.8 322.7,615.5 323.7,616.2 324.7,616.0 325.7,615.5 326.7,616.1 327.7,615.8 328.7,615.4 329.7,615.7 330.7,615.7 331.7,616.1 332.7,615.6 333.7,615.7 334.7,615.7 335.7,615.7 336.7,615.6 337.7,615.8 338.7,616.0 339.7,615.9 340.7,615.6 341.7,615.5 342.7,615.8 343.7,615.6 344.7,615.6 345.7,615.4 346.7,616.2 347.7,615.9 348.7,615.5 349.7,615.9 350.7,616.0 351.7,615.2 352.7,615.6 353.7,615.6 354.7,615.9 355.7,615.7 356.7,615.7 357.7,615.7 358.7,616.1 359.7,616.2 360.7,615.6 361.7,615.5 362.7,616.3 363.7,615.5 364.7,615.6 365.7,615.7 366.7,615.8 367.7,615.9 368.7,615.8 369.7,615.5 370.7,615.8 371.7,615.7 372.7,616.1 373.7,615.7 374.7,615.4 375.7,615.4 376.7,616.0 377.7,615.5 378.7,615.2 379.7,615.5 380.7,615.6 381.7,615.9 382.7,615.4 383.7,615.8 384.7,615.8 385.7,615.4 386.7,615.6 387.7,616.0 388.7,616.0 389.7,615.8 390.7,615.6 391.7,615.8 392.7,615.5 393.7,615.5 394.7,615.4 395.7,615.5 396.7,615.5 397.7,616.1 398.7,615.5 399.7,615.8 400.7,615.7 401.7,615.1 402.7,615.0 403.7,613.8 404.7,613.8 405.7,613.6 406.7,612.4 407.7,612.2 408.7,612.2 409.7,611.4 410.7,610.7 411.7,610.3 412.7,609.7 413.7,609.6 414.7,609.1 415.7,608.5 416.7,607.8 417.7,607.2 418.7,606.5 419.7,604.1 420.7,600.6 421.7,595.9 422.7,589.8 423.7,581.0 424.7,570.7 425.7,558.5 426.7,544.4 427.7,530.1 428.7,515.7 429.7,500.8 430.7,486.7 431.7,472.8 432.7,460.5 433.7,449.2 434.7,439.2 435.7,433.7 436.7,430.8 437.7,428.5 438.7,427.0 439.7,427.3 440.7,429.3 441.7,432.2 442.7,436.1 443.7,442.2 444.7,450.6 445.7,460.1 446.7,472.3 447.7,484.7 448.7,497.7 449.7,510.7 450.7,524.8 451.7,537.8 452.7,550.7 453.7,561.8 454.7,571.6 455.7,580.3 456.7,587.7 457.7,593.6 458.7,599.7 459.7,603.9 460.7,606.7 461.7,608.5 462.7,609.4 463.7,611.3 464.7,612.0 465.7,612.6 466.7,613.1 467.7,613.1 468.7,613.8 469.7,613.7 470.7,613.8 471.7,614.0 472.7,614.4 473.7,614.6 474.7,614.4 475.7,614.3 476.7,615.0 477.7,614.6 478.7,615.2 479.7,615.0 480.7,614.9 481.7,614.9 482.7,615.1 483.7,615.2 484.7,615.0 485.7,615.2 486.7,615.5 487.7,615.0 488.7,614.8 489.7,614.8 490.7,614.8 491.7,614.9 492.7,614.9 493.7,614.8 494.7,615.2 495.7,614.5 496.7,614.8 497.7,615.5 498.7,615.3 499.7,615.2 500.7,615.2 501.7,615.5 502.7,615.2 503.7,615.1 504.7,614.9 505.7,615.1 506.7,615.0 507.7,615.0 508.7,615.0 509.7,615.1 510.7,615.1 511.7,615.4 512.7,614.9 513.7,615.1 514.7,615.6 515.7,615.2 516.7,615.4 517.7,615.4 518.7,615.5 519.7,615.4 520.7,614.9 521.7,615.1 522.7,615.1 523.7,614.9 524.7,615.1 525.7,614.9 526.7,614.9 527.7,615.3 528.7,615.2 529.7,615.1 530.7,615.0 531.7,615.1 532.7,615.2 533.7,615.2 534.7,615.2 535.7,615.2 536.7,615.3 537.7,615.4 538.7,615.3 539.7,615.1 540.7,615.1 541.7,615.4 542.7,615.2 543.7,615.3 544.7,614.7 545.7,614.7 546.7,615.4 547.7,615.4 548.7,615.6 549.7,615.5 550.7,615.4 551.7,615.3 552.7,615.0 553.7,615.5 554.7,615.2 555.7,615.4 556.7,615.4 557.7,615.4 558.7,615.5 559.7,615.2 560.7,615.3 561.7,615.2 562.7,615.3 563.7,615.7 564.7,615.3 565.7,615.6 566.7,615.5 567.7,615.5 568.7,615.5 569.7,615.1 570.7,615.4 571.7,615.7 572.7,615.2 573.7,615.4 574.7,615.2 575.7,615.4 576.7,615.1 577.7,615.7 578.7,615.3 579.7,615.0 580.7,615.8 581.7,615.6 582.7,615.5 583.7,615.5 584.7,615.3 585.7,615.3 586.7,615.6 587.7,615.6 588.7,615.6 589.7,615.5 590.7,615.3 591.7,615.4 592.7,615.7 593.7,615.7 594.7,615.3 595.7,615.3 596.7,615.7 597.7,615.6 598.7,615.6 599.7,615.1 600.7,615.3 601.7,615.3 602.7,615.5 603.7,615.1 604.7,615.7 605.7,615.5 606.7,615.5 607.7,615.2 608.7,615.4 609.7,615.7 610.7,615.1 611.7,615.5 612.7,615.6 613.7,615.3 614.7,615.6 615.7,615.4 616.7,615.7 617.7,615.6 618.7,615.5 619.7,615.9 620.7,615.6 621.7,615.7 622.7,615.2 623.7,615.3 624.7,615.6 625.7,615.7 626.7,615.4 627.7,615.6 628.7,615.2 629.7,615.5 630.7,615.2 631.7,615.5 632.7,615.4 633.7,615.3 634.7,615.5 635.7,615.9 636.7,615.2 637.7,615.3 638.7,615.7 639.7,615.4 640.7,615.9 641.7,615.5 642.7,615.5 643.7,615.6 644.7,615.9 645.7,615.6 646.7,615.6 647.7,615.5 648.7,615.1 649.7,615.3 650.7,615.8 651.7,615.7 652.7,615.6 653.7,615.6 654.7,615.4 655.7,615.6 656.7,615.3 657.7,615.6 658.7,615.3 659.7,615.4 660.7,615.6 661.7,615.4 662.7,615.6 663.7,615.6 664.7,615.6 665.7,615.8 666.7,615.2 667.7,615.1 668.7,615.6 669.7,615.7 670.7,615.9 671.7,615.7 672.7,615.7 673.7,615.3 674.7,615.7 675.7,615.6 676.7,615.3 677.7,615.3 678.7,615.5 679.7,615.6 680.7,614.8 681.7,615.5 682.7,615.5 683.7,615.5 684.7,615.6 685.7,615.6 686.7,615.3 687.7,615.6 688.7,615.4 689.7,615.3 690.7,615.5 691.7,615.8 692.7,615.2 693.7,615.1 694.7,615.1 695.7,615.9 696.7,615.4 697.7,615.5 698.7,615.3 699.7,615.3 700.7,615.1 701.7,615.5 702.7,615.6 703.7,615.1 704.7,615.3 705.7,615.3 706.7,615.5 707.7,615.6 708.7,615.7 709.7,615.8 710.7,615.7 711.7,615.8 712.7,615.2 713.7,615.4 714.7,615.8 715.7,615.6 716.7,615.5 717.7,615.1 718.7,615.1 719.7,615.7" fill="none" stroke="#ea0000" stroke-width="3.3" stroke-linejoin="round" stroke-linecap="round"/>
<polyline points="183.3,614.8 184.3,615.0 185.3,614.0 186.3,614.6 187.3,614.8 188.3,614.9 189.3,614.8 190.3,615.0 191.3,614.7 192.3,614.8 193.3,614.7 194.3,614.4 195.3,614.5 196.3,614.7 197.3,614.5 198.3,615.0 199.3,615.0 200.3,615.1 201.3,614.7 202.3,615.0 203.3,614.5 204.3,614.5 205.3,614.7 206.3,614.8 207.3,614.4 208.3,614.3 209.3,614.8 210.3,614.5 211.3,615.0 212.3,614.8 213.3,614.8 214.3,614.8 215.3,614.9 216.3,614.7 217.3,615.0 218.3,614.6 219.3,614.7 220.3,614.6 221.3,614.9 222.3,614.8 223.3,614.6 224.3,615.2 225.3,614.7 226.3,614.8 227.3,614.9 228.3,615.2 229.3,614.8 230.3,615.0 231.3,614.8 232.3,614.5 233.3,615.0 234.3,615.0 235.3,614.8 236.3,614.8 237.3,614.5 238.3,614.5 239.3,614.7 240.3,615.0 241.3,614.7 242.3,614.9 243.3,615.1 244.3,614.9 245.3,615.0 246.3,615.2 247.3,614.6 248.3,615.0 249.3,614.4 250.3,615.0 251.3,614.9 252.3,614.7 253.3,614.6 254.3,614.9 255.3,614.8 256.3,614.9 257.3,614.7 258.3,615.0 259.3,614.7 260.3,614.8 261.3,614.8 262.3,615.2 263.3,614.6 264.3,614.8 265.3,615.2 266.3,614.8 267.3,614.6 268.3,615.0 269.3,614.8 270.3,615.1 271.3,614.7 272.3,615.0 273.3,615.1 274.3,615.1 275.3,614.7 276.3,615.2 277.3,614.7 278.3,614.6 279.3,614.7 280.3,615.0 281.3,614.9 282.3,615.0 283.3,615.0 284.3,615.0 285.3,614.9 286.3,615.3 287.3,614.5 288.3,614.6 289.3,614.8 290.3,614.7 291.3,614.4 292.3,614.8 293.3,614.8 294.3,614.4 295.3,615.1 296.3,615.2 297.3,615.2 298.3,614.8 299.3,615.0 300.3,614.7 301.3,615.0 302.3,614.8 303.4,615.1 303.4,618.5 303.4,615.1 304.3,614.9 305.3,615.2 306.3,615.1 307.3,615.2 308.3,614.6 309.3,614.6 310.3,615.1 311.3,614.8 312.3,615.1 313.3,615.0 314.3,615.0 315.3,615.2 316.3,615.1 317.3,615.1 318.3,614.8 319.3,615.4 320.3,615.0 321.3,615.2 322.3,615.1 323.3,615.3 324.3,615.0 325.3,615.0 326.3,615.0 327.3,614.8 328.3,614.9 329.3,615.0 330.3,615.0 331.3,614.8 332.3,615.5 333.3,614.8 334.3,614.9 335.3,615.5 336.3,614.8 337.3,615.2 338.3,615.1 339.3,614.9 340.3,614.7 341.3,614.6 342.3,615.0 343.3,615.1 344.3,614.5 345.3,615.0 346.3,614.8 347.3,615.2 348.3,615.0 349.3,614.8 350.3,614.9 351.3,615.0 352.3,615.3 353.3,615.7 354.3,615.1 355.3,615.0 356.3,615.2 357.3,615.0 358.3,615.2 359.3,615.1 360.3,615.0 361.3,614.8 362.3,615.1 363.3,615.2 364.3,615.0 365.3,615.4 366.3,615.2 367.3,615.0 368.3,615.4 369.3,614.8 370.3,615.3 371.3,615.4 372.3,615.0 373.3,615.0 374.3,615.2 375.3,615.3 376.3,615.1 377.3,615.1 378.3,615.2 379.3,615.1 380.3,614.8 381.3,615.0 382.3,615.0 383.3,614.7 384.3,615.1 385.3,614.9 386.3,615.2 387.3,614.7 388.3,614.8 389.3,614.7 390.3,615.3 391.3,615.3 392.3,615.3 393.3,615.4 394.3,615.2 395.3,615.2 396.3,614.7 397.3,615.1 398.3,614.9 399.3,615.0 400.3,614.8 401.3,615.3 402.3,615.1 403.3,614.7 404.3,615.1 405.3,615.0 406.3,614.8 407.3,614.9 408.3,614.8 409.3,614.5 410.3,614.6 411.3,615.0 412.3,614.9 413.3,614.9 414.3,614.5 415.3,614.5 416.3,614.6 417.3,614.7 418.3,614.3 419.3,614.1 420.3,614.5 421.3,614.2 422.3,613.9 423.3,613.7 424.3,613.6 425.3,613.9 426.3,613.1 427.3,611.8 428.3,610.4 429.3,609.7 430.3,608.4 431.3,607.3 432.3,606.4 433.3,605.0 434.3,604.3 435.3,603.9 436.3,603.0 437.3,602.4 438.3,601.7 439.3,601.2 440.3,601.3 441.3,601.0 442.3,601.3 443.3,601.8 444.3,602.4 445.3,603.3 446.3,604.1 447.3,604.3 448.3,605.3 449.3,606.0 450.3,606.9 451.3,607.3 452.3,608.5 453.3,609.3 454.3,610.1 455.3,610.6 456.3,611.5 457.3,611.9 458.3,612.7 459.3,613.1 460.3,612.8 461.3,613.2 462.3,613.5 463.3,613.7 464.3,614.3 465.3,614.1 466.3,614.3 467.3,614.2 468.3,614.9 469.3,614.7 470.3,614.9 471.3,614.9 472.3,614.5 473.3,614.6 474.3,614.7 475.3,615.1 476.3,614.9 477.3,615.1 478.3,615.1 479.3,615.1 480.3,615.2 481.3,615.1 482.3,614.7 483.3,614.9 484.3,615.4 485.3,614.8 486.3,615.3 487.3,615.4 488.3,614.9 489.3,615.1 490.3,614.7 491.3,615.2 492.3,614.9 493.3,614.8 494.3,615.0 495.3,614.9 496.3,614.9 497.3,615.1 498.3,615.0 499.3,614.9 500.3,615.3 501.3,615.6 502.3,615.1 503.3,614.9 504.3,614.8 505.3,615.2 506.3,615.0 507.3,615.1 508.3,614.6 509.3,614.8 510.3,614.8 511.3,615.3 512.3,615.0 513.3,614.5 514.3,615.2 515.3,615.3 516.3,615.4 517.3,614.5 518.3,615.1 519.3,615.3 520.3,615.2 521.3,615.0 522.3,614.7 523.3,615.0 524.3,615.0 525.3,615.2 526.3,615.2 527.3,615.0 528.3,615.3 529.3,614.9 530.3,615.0 531.3,615.1 532.3,615.2 533.3,615.0 534.3,615.4 535.3,615.2 536.3,614.9 537.3,615.1 538.3,614.9 539.3,614.9 540.3,614.8 541.3,615.4 542.3,615.3 543.3,614.8 544.3,615.4 545.3,615.3 546.3,615.0 547.3,615.2 548.3,615.6 549.3,615.2 550.3,615.2 551.3,615.4 552.3,614.9 553.3,614.9 554.3,614.8 555.3,615.1 556.3,615.3 557.3,614.9 558.3,614.8 559.3,615.2 560.3,615.1 561.3,615.3 562.3,615.1 563.3,615.1 564.3,615.1 565.3,615.2 566.3,614.9 567.3,614.9 568.3,615.5 569.3,615.8 570.3,615.4 571.3,614.8 572.3,615.2 573.3,615.4 574.3,614.8 575.3,615.1 576.3,615.1 577.3,615.0 578.3,615.0 579.3,615.4 580.3,615.1 581.3,615.1 582.3,615.5 583.3,615.0 584.3,614.8 585.3,615.3 586.3,615.6 587.3,615.2 588.3,615.2 589.3,614.9 590.3,615.0 591.3,615.5 592.3,615.5 593.3,615.3 594.3,615.0 595.3,614.9 596.3,614.9 597.3,614.9 598.3,615.3 599.3,615.0 600.3,615.1 601.3,615.3 602.3,615.3 603.3,615.2 604.3,615.3 605.3,615.2 606.3,614.8 607.3,615.2 608.3,615.1 609.3,615.1 610.3,615.2 611.3,615.1 612.3,615.4 613.3,615.1 614.3,615.2 615.3,615.3 616.3,615.1 617.3,615.3 618.3,615.3 619.3,615.3 620.3,615.0 621.3,615.0 622.3,615.0 623.3,615.2 624.3,614.8 625.3,615.0 626.3,614.9 627.3,615.0 628.3,615.0 629.3,615.4 630.3,615.3 631.3,615.4 632.3,615.0 633.3,615.0 634.3,615.1 635.3,615.5 636.3,615.6 637.3,615.0 638.3,615.3 639.3,615.7 640.3,615.0 641.3,615.1 642.3,615.5 643.3,615.3 644.3,615.0 645.3,615.5 646.3,615.4 647.3,615.3 648.3,614.9 649.3,615.2 650.3,615.5 651.3,615.3 652.3,615.4 653.3,615.1 654.3,615.5 655.3,615.1 656.3,615.4 657.3,615.3 658.3,615.0 659.3,615.5 660.3,614.9 661.3,615.0 662.3,615.2 663.3,614.9 664.3,614.8 665.3,615.2 666.3,615.1 667.3,615.1 668.3,615.3 669.3,615.7 670.3,615.1 671.3,615.7 672.3,615.2 673.3,615.2 674.3,614.6 675.3,614.9 676.3,615.3 677.3,615.3 678.3,615.0 679.3,615.3 680.3,615.4 681.3,615.1 682.3,614.8 683.3,615.0 684.3,615.1 685.3,615.3 686.3,615.4 687.3,615.0 688.3,615.2 689.3,615.1 690.3,615.2 691.3,615.4 692.3,615.5 693.3,615.1 694.3,615.1 695.3,615.0 696.3,615.1 697.3,615.1 698.3,615.2 699.3,615.1 702.0,615.0 702.0,612.0 702.0,615.0 701.3,614.9 702.3,615.2 703.3,615.7 704.3,615.3 705.3,615.3 706.3,615.3 707.3,615.2 708.3,615.6 709.3,615.1 710.3,615.0 711.3,614.9 712.3,615.2 713.3,615.0 714.3,615.0 715.3,615.0 716.3,614.9 717.3,615.2 718.3,614.8 719.3,615.7 720.3,614.6" fill="none" stroke="#0000ea" stroke-width="3.3" stroke-linejoin="round" stroke-linecap="round"/>
<polygon points="431.9,697.5 433.9,690.0 433.9,644.0 434.6,643.3 437.0,640.5 438.0,634.0 439.8,628.9 441.5,632.0 442.5,634.0 444.2,631.3 445.2,640.0 445.6,646.0 447.0,660.0 449.0,673.5 450.2,690.0 448.3,697.5 445.6,670.0 444.9,657.7 441.8,662.5 438.5,660.0 437.4,675.5 436.0,690.0" fill="#ea0000" stroke="#ea0000" stroke-width="1.5" stroke-linejoin="round"/>
<polyline points="194.0,808.5 195.0,809.1 196.0,807.9 197.0,806.6 198.0,807.5 199.0,806.4 200.0,808.6 201.0,811.3 202.0,807.5 203.0,807.2 204.0,809.5 205.0,809.2 206.0,808.7 207.0,806.5 208.0,808.4 209.0,810.0 210.0,805.7 211.0,807.5 212.0,804.5 213.0,805.8 214.0,804.6 215.0,808.0 216.0,805.8 217.0,809.1 218.0,808.8 219.0,808.1 220.0,803.2 221.0,807.4 222.0,808.4 223.0,808.7 224.0,805.3 225.0,807.5 226.0,806.4 227.0,806.8 228.0,810.7 229.0,806.8 230.0,808.4 231.0,810.4 232.0,807.3 233.0,808.3 234.0,808.7 235.0,808.6 236.0,805.9 237.0,808.7 238.0,811.4 239.0,805.3 240.0,810.3 241.0,808.8 242.0,807.2 243.0,812.7 244.0,810.1 245.0,806.0 246.0,808.7 247.0,809.7 248.0,808.1 249.0,809.9 250.0,808.4 251.0,809.9 252.0,811.5 253.0,807.1 254.0,808.9 255.0,807.5 256.0,808.8 257.0,806.0 258.0,807.3 259.0,808.1 260.0,810.4 261.0,810.9 262.0,805.7 263.0,806.8 264.0,809.9 265.0,804.3 266.0,807.5 267.0,808.3 268.0,811.1 269.0,809.9 270.0,807.8 271.0,807.7 272.0,808.0 273.0,811.7 274.0,807.6 275.0,807.9 276.0,809.2 277.0,808.2 278.0,808.1 279.0,806.2 280.0,808.5 281.0,807.6 282.0,810.9 283.0,809.9 284.0,808.4 285.0,809.9 286.0,807.8 287.0,810.7 288.0,808.5 289.0,809.7 290.0,805.8 291.0,809.2 292.0,805.0 293.0,804.2 294.0,807.9 295.0,806.6 296.0,808.8 297.0,813.2 298.0,806.8 299.0,807.2 300.0,808.9 301.0,809.5 302.0,808.1 303.0,808.1 304.0,810.0 305.0,809.6 306.0,806.3 307.0,808.3 308.0,808.6 309.0,806.3 310.0,809.0 311.0,806.7 312.0,810.5 313.0,808.9 314.0,808.7 315.0,807.2 315.8,808.2 315.8,822.5 315.8,808.2 317.0,804.3 318.0,806.1 319.0,809.2 320.0,804.0 321.0,810.2 322.0,804.8 323.0,810.0 324.0,806.7 325.0,810.1 326.0,808.7 327.0,805.2 328.0,811.1 329.0,811.5 330.0,808.3 331.0,807.8 332.0,808.1 333.0,806.4 334.0,810.7 335.0,807.2 336.0,808.3 337.0,806.7 338.0,807.0 339.0,805.7 340.0,811.0 341.0,808.0 342.0,810.4 343.0,808.3 344.0,806.8 345.0,807.6 346.0,807.1 347.0,808.3 348.0,807.5 349.0,807.6 350.0,805.3 351.0,806.5 352.0,811.7 353.0,806.8 354.0,806.0 355.0,808.9 356.0,811.1 357.0,805.1 358.0,807.7 359.0,806.8 360.0,804.4 361.0,809.6 362.0,808.0 363.0,808.2 364.0,806.4 365.0,809.0 366.0,806.8 367.0,807.7 368.0,805.6 369.0,805.4 370.0,810.7 371.0,806.8 372.0,808.5 373.0,807.8 374.0,806.9 375.0,806.7 376.0,809.1 377.0,807.1 378.0,807.4 379.0,807.7 380.0,810.1 381.0,809.1 382.0,808.4 383.0,806.4 384.0,804.6 385.0,809.5 386.0,809.5 387.0,807.2 388.0,808.6 389.0,809.0 390.0,809.1 391.0,809.3 392.0,806.3 393.0,810.4 394.0,804.6 395.0,809.0 396.0,808.2 397.0,808.9 398.0,811.0 399.0,810.2 400.0,804.6 401.0,803.3 402.0,808.4 403.0,804.2 404.0,805.9 405.0,807.4 406.0,801.8 407.0,800.5 408.0,805.2 409.0,804.3 410.0,803.5 411.0,803.1 412.0,801.3 413.0,799.2 414.0,798.7 415.0,796.1 416.0,793.5 417.0,793.1 418.0,790.0 419.0,787.3 420.0,782.5 421.0,778.0 422.0,771.7 423.0,765.5 424.0,760.2 425.0,752.7 426.0,746.8 427.0,739.6 428.0,733.5 429.0,722.4 430.0,716.0 431.0,706.1 432.0,696.5 433.0,685.5 434.0,669.6 435.0,654.2 436.0,645.0 437.0,639.9 438.0,635.8 439.0,632.4 440.0,630.1 441.0,630.7 442.0,633.2 443.0,632.4 444.0,630.1 445.0,639.2 446.0,654.1 447.0,665.2 448.0,674.3 449.0,689.2 450.0,700.1 451.0,706.4 452.0,713.8 453.0,722.2 454.0,731.0 455.0,740.0 456.0,747.0 457.0,753.4 458.0,758.6 459.0,766.1 460.0,771.2 461.0,778.8 462.0,781.8 463.0,786.9 464.0,790.8 465.0,792.9 466.0,798.4 467.0,800.4 468.0,800.7 469.0,803.6 470.0,804.7 471.0,803.0 472.0,806.4 473.0,806.1 474.0,806.7 475.0,804.5 476.0,806.4 477.0,806.8 478.0,809.8 479.0,808.1 480.0,807.5 481.0,810.8 482.0,806.4 483.0,806.8 484.0,803.9 485.0,811.0 486.0,809.8 487.0,809.8 488.0,809.3 489.0,808.1 490.0,808.4 491.0,807.5 492.0,807.6 493.0,808.2 494.0,811.3 495.0,809.3 496.0,808.1 497.0,807.0 498.0,806.9 499.0,811.7 500.0,809.4 501.0,808.5 502.0,807.7 503.0,806.1 504.0,808.3 505.0,810.3 506.0,807.7 507.0,808.1 508.0,808.1 509.0,808.8 510.0,805.3 511.0,808.2 512.0,806.9 513.0,810.6 514.0,807.1 515.0,810.0 516.0,812.0 517.0,808.1 518.0,807.6 519.0,809.2 520.0,808.9 521.0,806.8 522.0,809.9 523.0,813.2 524.0,808.4 525.0,808.5 526.0,806.8 527.0,809.7 528.0,806.4 529.0,806.7 530.0,811.7 531.0,807.2 532.0,811.4 533.0,812.3 534.0,809.7 535.0,810.3 536.0,813.2 537.0,808.7 538.0,807.9 539.0,806.3 540.0,809.3 541.0,812.3 542.0,811.2 543.0,807.3 544.0,807.5 545.0,808.2 546.0,809.9 547.0,808.9 548.0,809.8 549.0,809.9 550.0,808.7 551.0,809.3 552.0,809.8 553.0,809.2 554.0,810.4 555.0,813.3 556.0,810.6 557.0,809.5 558.0,805.9 559.0,810.2 560.0,805.4 561.0,806.5 562.0,811.3 563.0,811.0 564.0,809.2 565.0,805.9 566.0,808.7 567.0,808.1 568.0,810.9 569.0,814.3 570.0,810.0 571.0,807.9 572.0,807.1 573.0,809.5 574.0,809.2 575.0,807.2 576.0,809.9 577.0,807.2 578.0,812.0 579.0,811.9 580.0,812.0 581.0,808.7 582.0,810.8 583.0,809.4 584.0,808.9 585.0,809.0 586.0,807.0 587.0,806.7 588.0,811.5 589.0,809.4 590.0,810.3 591.0,811.9 592.0,806.2 593.0,808.2 594.0,810.3 595.0,810.7 596.0,809.1 597.0,812.1 598.0,810.4 599.0,807.4 600.0,808.0 601.0,811.7 602.0,811.0 603.0,806.1 604.0,812.9 605.0,811.4 606.0,812.9 607.0,809.3 608.0,809.5 609.0,807.8 610.0,815.5 611.0,809.8 612.0,813.6 613.0,808.9 614.0,810.6 615.0,806.8 616.0,809.5 617.0,812.4 618.0,807.7 619.0,812.6 620.0,811.1 621.0,808.2 622.0,809.4 623.0,809.5 624.0,810.4 625.0,809.4 626.0,808.8 627.0,809.9 628.0,808.4 629.0,807.9 630.0,810.5 631.0,812.5 632.0,807.4 633.0,810.7 634.0,809.3 635.0,808.6 636.0,812.5 637.0,809.6 638.0,813.9 639.0,809.1 640.0,811.6 641.0,810.3 642.0,809.2 643.0,812.1 644.0,810.5 645.0,812.1 646.0,810.8 647.0,808.6 648.0,810.7 649.0,811.1 650.0,813.0 651.0,809.1 652.0,810.9 653.0,807.4 654.0,812.4 655.0,808.8 656.0,807.3 657.0,811.0 658.0,813.4 659.0,807.9 660.0,808.9 661.0,809.6 662.0,808.8 663.0,812.0 664.0,809.5 665.0,809.7 666.0,812.5 667.0,809.7 668.0,812.2 669.0,809.3 670.0,808.8 671.0,807.5 672.0,815.3 673.0,810.7 674.0,811.9 675.0,811.4 676.0,811.8 677.0,811.6 678.0,815.5 679.0,809.3 680.0,808.3 681.0,809.4 682.0,808.8 683.0,813.2 684.0,813.3 685.0,809.6 686.0,808.7 687.0,810.9 688.0,814.6 689.0,805.8 690.0,812.8 691.0,809.5 692.0,813.9 693.0,809.5 694.0,811.2 695.0,808.6 696.0,809.8 697.0,814.8 698.0,813.6 699.0,811.0 700.0,810.1 701.0,807.9 702.0,811.1 703.0,811.9 704.0,811.8 705.0,811.8 706.0,809.7 707.0,811.9 708.0,812.0 709.0,814.8 710.0,816.0 711.0,811.8 713.6,810.5 713.6,794.0 713.6,810.5 713.0,812.0 714.0,810.9 715.0,810.6 716.0,812.1 717.0,810.0 718.0,813.5 719.0,812.0 720.0,812.8 721.0,811.9 722.0,810.8 723.0,810.3 724.0,811.8 725.0,811.2 726.0,812.9 727.0,812.4 728.0,809.5 729.0,812.6 730.0,809.6 731.0,811.2 732.0,811.9 733.0,808.1" fill="none" stroke="#ea0000" stroke-width="3.5" stroke-linejoin="round" stroke-linecap="round"/>
<polyline points="189.2,806.8 190.2,807.7 191.2,807.6 192.2,809.8 193.2,805.6 194.2,810.1 195.2,808.5 196.2,812.4 197.2,812.5 198.2,813.4 199.2,812.1 200.2,810.4 201.2,812.3 202.2,813.7 203.2,809.1 204.2,811.8 205.2,810.4 206.2,813.5 207.2,808.7 208.2,809.9 209.2,811.3 210.2,811.0 211.2,807.1 212.2,811.3 213.2,810.3 214.2,810.0 215.2,810.2 216.2,811.0 217.2,806.7 218.2,813.8 219.2,808.7 220.2,805.8 221.2,810.3 222.2,813.6 223.2,809.4 224.2,813.8 225.2,813.8 226.2,808.7 227.2,805.3 228.2,807.9 229.2,813.0 230.2,808.8 231.2,807.3 232.2,807.7 233.2,810.5 234.2,810.4 235.2,812.3 236.2,812.6 237.2,808.5 238.2,810.2 239.2,808.1 240.2,810.7 241.2,808.1 242.2,808.0 243.2,815.0 244.2,810.6 245.2,811.9 246.2,815.8 247.2,812.2 248.2,810.3 249.2,810.6 250.2,808.9 251.2,812.8 252.2,809.8 253.2,814.2 254.2,809.8 255.2,809.8 256.2,809.6 257.2,811.8 258.2,810.9 259.2,813.4 260.2,809.3 261.2,811.1 262.2,814.6 263.2,810.0 264.2,811.6 265.2,813.8 266.2,811.7 267.2,809.2 268.2,806.2 269.2,815.5 270.2,811.4 271.2,813.1 272.2,809.5 273.2,814.3 274.2,811.6 275.2,810.6 276.2,808.6 277.2,811.3 278.2,809.5 279.2,810.0 280.2,807.1 281.2,809.5 282.2,810.8 283.2,807.9 284.2,810.7 285.2,811.9 286.2,809.9 287.2,809.2 288.2,809.2 289.2,812.5 290.2,807.3 291.2,809.9 292.2,809.6 293.2,810.8 294.2,810.4 295.2,808.2 296.2,814.8 297.2,810.9 298.2,807.7 299.2,808.6 300.2,810.7 301.2,811.8 302.2,807.7 303.2,812.0 304.2,807.6 305.2,808.8 306.2,812.3 307.2,814.1 308.2,810.3 309.7,809.8 309.7,821.7 309.7,809.8 310.2,813.2 311.2,808.2 312.2,811.1 313.2,811.0 314.2,812.6 315.2,811.1 316.2,809.9 317.2,811.8 318.2,808.1 319.2,812.2 320.2,809.1 321.2,808.6 322.2,809.7 323.2,810.6 324.2,812.0 325.2,810.1 326.2,812.0 327.2,812.5 328.2,810.3 329.2,808.4 330.2,812.4 331.2,811.1 332.2,806.1 333.2,808.4 334.2,810.8 335.2,807.6 336.2,809.1 337.2,806.9 338.2,811.3 339.2,811.0 340.2,810.9 341.2,813.5 342.2,809.8 343.2,809.9 344.2,814.7 345.2,807.8 346.2,812.0 347.2,807.7 348.2,811.0 349.2,814.9 350.2,811.1 351.2,808.9 352.2,815.5 353.2,809.4 354.2,810.1 355.2,811.1 356.2,807.7 357.2,812.8 358.2,813.9 359.2,812.1 360.2,811.2 361.2,810.2 362.2,812.4 363.2,803.9 364.2,810.2 365.2,811.0 366.2,806.3 367.2,811.4 368.2,810.2 369.2,810.4 370.2,810.7 371.2,811.7 372.2,811.5 373.2,808.3 374.2,810.3 375.2,810.1 376.2,810.6 377.2,809.3 378.2,812.5 379.2,813.2 380.2,813.7 381.2,814.5 382.2,813.6 383.2,809.5 384.2,809.2 385.2,809.7 386.2,811.7 387.2,810.2 388.2,812.6 389.2,814.0 390.2,809.6 391.2,812.6 392.2,809.7 393.2,807.8 394.2,807.8 395.2,809.8 396.2,806.5 397.2,811.5 398.2,813.7 399.2,808.1 400.2,809.8 401.2,813.9 402.2,811.6 403.2,811.5 404.2,810.7 405.2,813.4 406.2,811.9 407.2,808.8 408.2,805.8 409.2,805.0 410.2,811.7 411.2,809.5 412.2,812.7 413.2,810.4 414.2,806.3 415.2,809.2 416.2,810.7 417.2,805.9 418.2,806.2 419.2,810.4 420.2,803.9 421.2,804.2 422.2,806.4 423.2,804.7 424.2,802.4 425.2,801.3 426.2,803.2 427.2,803.4 428.2,802.2 429.2,800.9 430.2,801.5 431.2,799.2 432.2,796.8 433.2,799.5 434.2,794.1 435.2,794.5 436.2,793.6 437.2,794.7 438.2,791.1 439.2,790.9 440.2,788.2 441.2,790.4 442.2,790.1 443.2,790.4 444.2,789.3 445.2,792.5 446.2,793.1 447.2,795.6 448.2,798.3 449.2,802.7 450.2,802.8 451.2,805.1 452.2,804.9 453.2,806.2 454.2,806.8 455.2,808.2 456.2,809.9 457.2,807.8 458.2,811.2 459.2,808.0 460.2,811.0 461.2,809.5 462.2,810.2 463.2,810.2 464.2,813.5 465.2,811.8 466.2,813.5 467.2,810.5 468.2,810.7 469.2,814.6 470.2,807.7 471.2,809.3 472.2,810.7 473.2,814.9 474.2,809.8 475.2,812.7 476.2,814.3 477.2,810.5 478.2,810.6 479.2,814.5 480.2,809.8 481.2,808.7 482.2,812.7 483.2,809.9 484.2,813.7 485.2,812.1 486.2,807.3 487.2,811.5 488.2,811.0 489.2,809.6 490.2,813.3 491.2,807.2 492.2,808.3 493.2,809.9 494.2,812.6 495.2,807.7 496.2,809.6 497.2,809.5 498.2,807.8 499.2,810.2 500.2,808.6 501.2,810.0 502.2,811.6 503.2,809.1 504.2,809.1 505.2,808.9 506.2,809.2 507.2,807.7 508.2,808.5 509.2,811.3 510.2,809.2 511.2,817.9 512.2,809.3 513.2,812.0 514.2,807.9 515.2,810.5 516.2,809.9 517.2,810.9 518.2,813.9 519.2,810.7 520.2,808.5 521.2,811.4 522.2,809.1 523.2,810.9 524.2,814.5 525.2,813.2 526.2,813.5 527.2,812.3 528.2,811.2 529.2,808.0 530.2,810.2 531.2,810.1 532.2,812.7 533.2,813.4 534.2,812.3 535.2,809.6 536.2,815.2 537.2,814.3 538.2,810.9 539.2,811.8 540.2,812.7 541.2,811.6 542.2,811.2 543.2,812.4 544.2,811.4 545.2,811.8 546.2,808.0 547.2,808.1 548.2,815.1 549.2,808.3 550.2,812.5 551.2,812.1 552.2,811.9 553.2,810.0 554.2,813.6 555.2,812.3 556.2,810.8 557.2,808.6 558.2,811.1 559.2,810.3 560.2,808.9 561.2,812.4 562.2,812.8 563.2,813.4 564.2,811.9 565.2,811.1 566.2,814.0 567.2,813.3 568.2,816.5 569.2,812.9 570.2,809.8 571.2,813.8 572.2,816.7 573.2,812.3 574.2,811.4 575.2,810.5 576.2,815.8 577.2,811.4 578.2,811.3 579.2,812.5 580.2,808.9 581.2,811.3 582.2,809.2 583.2,811.6 584.2,813.0 585.2,813.9 586.2,811.1 587.2,813.7 588.2,811.2 589.2,808.5 590.2,813.2 591.2,811.6 592.2,812.3 593.2,806.5 594.2,812.5 595.2,812.6 596.2,812.6 597.2,814.3 598.2,811.4 599.2,816.7 600.2,813.7 601.2,813.3 602.2,806.9 603.2,808.1 604.2,815.4 605.2,813.1 606.2,814.2 607.2,811.5 608.2,812.0 609.2,813.5 610.2,810.6 611.2,815.1 612.2,810.0 613.2,812.8 614.2,811.8 615.2,813.1 616.2,815.0 617.2,810.1 618.2,813.4 619.2,812.7 620.2,814.3 621.2,812.5 622.2,811.5 623.2,813.6 624.2,815.4 625.2,814.3 626.2,812.9 627.2,813.5 628.2,809.4 629.2,811.5 630.2,812.1 631.2,811.5 632.2,811.2 633.2,812.6 634.2,813.5 635.2,816.8 636.2,811.2 637.2,810.8 638.2,814.8 639.2,813.1 640.2,810.9 641.2,816.0 642.2,812.3 643.2,812.1 644.2,811.5 645.2,810.9 646.2,813.0 647.2,810.8 648.2,818.0 649.2,813.5 650.2,812.3 651.2,811.2 652.2,813.4 653.2,814.9 654.2,813.3 655.2,810.4 656.2,812.4 657.2,809.3 658.2,815.9 659.2,814.3 660.2,813.3 661.2,813.5 662.2,811.7 663.2,812.6 664.2,815.0 665.2,812.9 666.2,814.2 667.2,813.4 668.2,813.5 669.2,813.7 670.2,815.2 671.2,812.4 672.2,814.5 673.2,811.4 674.2,811.8 675.2,811.6 676.2,814.9 677.2,812.5 678.2,815.7 679.2,811.0 680.2,814.0 681.2,810.7 682.2,815.5 683.2,811.7 684.2,814.2 685.2,811.8 686.2,811.6 687.2,813.8 688.2,809.7 689.2,810.8 690.2,816.5 691.2,811.6 692.2,815.0 693.2,811.5 694.2,809.9 695.2,812.5 696.2,815.2 697.2,813.3 698.2,812.8 699.2,815.2 700.2,811.8 701.2,814.9 702.2,814.1 703.2,811.3 704.2,815.4 707.6,815.8 707.6,795.9 707.6,815.8 706.2,813.0 707.2,813.7 708.2,812.9 709.2,811.1 710.2,815.2 711.2,811.4 712.2,814.6 713.2,812.4 714.2,811.4 715.2,814.8 716.2,814.1 717.2,817.5 718.2,813.4 719.2,813.9 720.2,813.9 721.2,813.1 722.2,816.4 723.2,816.8 724.2,815.1 725.2,811.6 726.2,814.7 727.2,813.9 728.2,812.8 729.2,810.5 730.2,815.6 731.2,816.3 732.2,814.5" fill="none" stroke="#0000ea" stroke-width="3.5" stroke-linejoin="round" stroke-linecap="round"/>
<polyline points="174.0,1010.4 175.0,1010.7 176.0,1010.1 177.0,1010.8 178.0,1010.9 179.0,1010.5 180.0,1010.7 181.0,1010.7 182.0,1010.5 183.0,1010.3 184.0,1010.0 185.0,1011.0 186.0,1010.6 187.0,1011.4 188.0,1010.8 189.0,1010.7 190.0,1010.4 191.0,1011.0 192.0,1010.4 193.0,1011.1 194.0,1010.5 195.0,1010.6 196.0,1010.1 197.0,1011.3 198.0,1010.6 199.0,1010.5 200.0,1010.8 201.0,1010.3 202.0,1010.8 203.0,1010.2 204.0,1010.7 205.0,1010.3 206.0,1010.0 207.0,1010.4 208.0,1010.1 209.0,1010.7 210.0,1010.6 211.0,1010.7 212.0,1010.6 213.0,1010.5 214.0,1010.6 215.0,1010.9 216.0,1010.5 217.0,1010.3 218.0,1010.3 219.0,1010.5 220.0,1010.3 221.0,1011.1 222.0,1010.2 223.0,1010.2 224.0,1010.4 225.0,1010.7 226.0,1010.4 227.0,1010.2 228.0,1010.3 229.0,1010.4 230.0,1010.8 231.0,1010.2 232.0,1010.5 233.0,1010.3 234.0,1010.6 235.0,1010.6 236.0,1010.0 237.0,1011.2 238.0,1010.5 239.0,1010.3 240.0,1010.2 241.0,1010.4 242.0,1010.4 243.0,1010.6 244.0,1010.4 245.0,1010.6 246.0,1009.9 247.0,1010.2 248.0,1009.5 249.0,1008.8 250.0,1008.1 251.0,1007.4 252.0,1007.7 253.0,1008.0 254.0,1008.1 255.0,1007.5 256.0,1008.0 257.0,1007.9 258.0,1007.7 259.0,1008.4 260.0,1007.5 261.0,1007.7 262.0,1007.9 263.0,1007.9 264.0,1007.8 265.0,1008.2 266.0,1008.3 267.0,1008.1 268.0,1008.1 269.0,1007.8 270.0,1007.5 271.0,1008.5 272.0,1007.6 273.0,1008.5 274.0,1007.8 275.0,1008.0 276.0,1007.8 277.0,1008.2 278.0,1007.8 279.0,1008.5 280.0,1008.1 281.0,1008.0 282.0,1007.8 283.0,1008.1 284.0,1008.0 285.0,1008.6 286.0,1008.3 287.0,1007.6 288.0,1008.5 289.0,1007.4 290.0,1008.6 291.0,1007.6 292.0,1008.1 293.0,1008.4 294.0,1008.2 294.0,1027.0 294.0,1008.2 295.0,1007.9 296.0,1008.6 297.0,1007.7 298.0,1007.9 299.0,1009.3 300.0,1009.7 301.0,1011.2 302.0,1011.9 303.0,1011.7 304.0,1011.8 305.0,1011.8 306.0,1011.8 307.0,1012.1 310.3,1012.0 310.3,1024.2 310.3,1012.0 309.0,1011.9 310.0,1012.1 311.0,1011.6 312.0,1011.6 313.0,1011.5 314.0,1012.0 315.0,1012.3 316.0,1011.8 317.0,1011.2 318.0,1011.7 319.0,1012.0 320.0,1011.9 321.0,1011.9 322.0,1012.2 323.0,1012.1 324.0,1011.5 325.0,1012.0 326.0,1011.7 327.0,1012.0 328.0,1012.3 329.0,1012.5 330.0,1012.1 331.0,1011.8 332.0,1011.8 333.0,1012.1 334.0,1011.6 335.0,1011.9 336.0,1012.1 337.0,1012.2 338.0,1011.9 339.0,1012.1 340.0,1012.4 341.0,1012.0 342.0,1011.4 343.0,1012.0 344.0,1012.0 345.0,1011.8 346.0,1012.0 347.0,1011.5 348.0,1012.3 349.0,1012.1 350.0,1011.8 351.0,1012.0 352.0,1012.0 353.0,1011.7 354.0,1011.2 355.0,1011.1 356.0,1012.6 357.0,1011.7 358.0,1011.9 359.0,1012.2 360.0,1011.9 361.0,1012.3 362.0,1011.7 363.0,1012.2 364.0,1011.4 365.0,1012.2 366.0,1012.2 367.0,1012.1 368.0,1012.1 369.0,1012.1 370.0,1012.3 371.0,1012.3 372.0,1011.7 373.0,1012.3 374.0,1011.7 375.0,1012.0 376.0,1011.9 377.0,1012.1 378.0,1011.9 379.0,1012.1 380.0,1011.9 381.0,1011.7 382.0,1012.3 383.0,1012.2 384.0,1012.2 385.0,1012.3 386.0,1011.7 387.0,1012.2 388.0,1011.6 389.0,1012.0 390.0,1011.8 391.0,1011.8 392.0,1011.9 393.0,1011.6 394.0,1011.2 395.0,1011.7 396.0,1011.7 397.0,1011.4 398.0,1011.4 399.0,1010.4 400.0,1010.8 401.0,1010.6 402.0,1009.9 403.0,1010.4 404.0,1010.2 405.0,1009.5 406.0,1009.5 407.0,1009.6 408.0,1009.5 409.0,1009.3 410.0,1008.3 411.0,1007.8 412.0,1007.3 413.0,1006.8 414.0,1005.9 415.0,1005.4 416.0,1005.0 417.0,1004.2 418.0,1003.3 419.0,1002.0 420.0,1001.3 421.0,1000.5 422.0,999.4 423.0,997.6 424.0,994.1 425.0,990.0 426.0,984.5 427.0,978.0 428.0,970.5 429.0,960.8 430.0,951.6 431.0,939.9 432.0,927.7 433.0,916.2 434.0,904.4 435.0,892.0 436.0,877.2 437.0,864.7 438.0,853.9 439.0,848.1 440.0,846.4 441.0,845.8 442.0,837.9 443.0,834.2 444.0,843.2 445.0,846.8 446.0,850.7 447.0,860.5 448.0,871.5 449.0,879.5 450.0,890.2 451.0,901.4 452.0,913.3 453.0,925.4 454.0,937.3 455.0,949.9 456.0,961.6 457.0,972.4 458.0,981.3 459.0,988.4 460.0,993.6 461.0,998.7 462.0,1002.9 463.0,1005.5 464.0,1007.8 465.0,1008.9 466.0,1009.0 467.0,1010.0 468.0,1010.8 469.0,1011.2 470.0,1010.9 471.0,1010.9 472.0,1011.1 473.0,1011.0 474.0,1011.2 475.0,1010.8 476.0,1011.2 477.0,1011.5 478.0,1011.8 479.0,1011.5 480.0,1012.6 481.0,1012.8 482.0,1013.3 483.0,1013.2 484.0,1014.2 485.0,1014.2 486.0,1014.4 487.0,1015.5 488.0,1015.8 489.0,1016.0 490.0,1016.2 491.0,1016.3 492.0,1016.8 493.0,1016.9 494.0,1017.3 495.0,1017.7 496.0,1017.3 497.0,1017.4 498.0,1017.8 499.0,1017.0 500.0,1017.2 501.0,1017.4 502.0,1016.9 503.0,1017.7 504.0,1017.9 505.0,1017.1 506.0,1017.2 507.0,1017.8 508.0,1017.9 509.0,1017.0 510.0,1017.7 511.0,1017.5 512.0,1017.0 513.0,1017.5 514.0,1017.5 515.0,1017.7 516.0,1017.7 517.0,1017.6 518.0,1017.7 519.0,1017.7 520.0,1017.9 521.0,1018.1 522.0,1018.1 523.0,1017.6 524.0,1017.6 525.0,1017.7 526.0,1018.3 527.0,1018.0 528.0,1017.7 529.0,1017.6 530.0,1017.7 531.0,1018.0 532.0,1017.7 533.0,1018.0 534.0,1018.4 535.0,1018.0 536.0,1018.3 537.0,1017.6 538.0,1018.2 539.0,1018.2 540.0,1017.9 541.0,1018.6 542.0,1018.2 543.0,1018.0 544.0,1018.1 545.0,1018.5 546.0,1017.8 547.0,1018.3 548.0,1018.0 549.0,1018.4 550.0,1018.2 551.0,1018.3 552.0,1018.6 553.0,1018.4 554.0,1018.5 555.0,1018.6 556.0,1018.5 557.0,1018.5 558.0,1018.5 559.0,1018.6 560.0,1018.8 561.0,1019.0 562.0,1019.0 563.0,1018.2 564.0,1018.6 565.0,1018.7 566.0,1018.9 567.0,1018.9 568.0,1018.2 569.0,1018.7 570.0,1018.1 571.0,1018.5 572.0,1018.4 573.0,1018.5 574.0,1019.1 575.0,1018.5 576.0,1018.5 577.0,1018.7 578.0,1019.0 579.0,1018.2 580.0,1019.2 581.0,1018.5 582.0,1018.5 583.0,1018.8 584.0,1019.0 585.0,1019.6 586.0,1019.1 587.0,1018.6 588.0,1018.8 589.0,1018.5 590.0,1019.0 591.0,1019.1 592.0,1018.8 593.0,1019.2 594.0,1018.4 595.0,1018.8 596.0,1018.6 597.0,1018.7 598.0,1018.4 599.0,1019.2 600.0,1018.7 601.0,1018.9 602.0,1019.3 603.0,1019.5 604.0,1019.3 605.0,1018.3 606.0,1018.9 607.0,1018.9 608.0,1018.8 609.0,1018.8 610.0,1018.9 611.0,1019.2 612.0,1018.9 613.0,1018.7 614.0,1018.6 615.0,1019.1 616.0,1018.6 617.0,1019.3 618.0,1018.9 619.0,1019.0 620.0,1019.2 621.0,1019.0 622.0,1019.3 623.0,1018.7 624.0,1018.6 625.0,1019.7 626.0,1019.2 627.0,1018.4 628.0,1019.7 629.0,1018.7 630.0,1019.8 631.0,1019.7 632.0,1019.5 633.0,1019.2 634.0,1018.9 635.0,1019.5 636.0,1019.1 637.0,1019.5 638.0,1019.1 639.0,1018.8 640.0,1019.0 641.0,1019.3 642.0,1019.1 643.0,1019.3 644.0,1019.0 645.0,1019.7 646.0,1019.1 647.0,1019.4 648.0,1018.8 649.0,1019.5 650.0,1019.8 651.0,1019.5 652.0,1019.2 653.0,1019.0 654.0,1019.5 655.0,1019.5 656.0,1018.9 657.0,1019.3 658.0,1019.5 659.0,1019.1 660.0,1019.5 661.0,1019.2 662.0,1019.8 663.0,1019.0 664.0,1019.5 665.0,1019.4 666.0,1018.8 667.0,1019.1 668.0,1019.1 669.0,1019.6 670.0,1019.2 671.0,1019.4 672.0,1019.4 673.0,1020.1 674.0,1019.3 675.0,1019.9 676.0,1019.3 677.0,1018.9 678.0,1019.1 679.0,1019.0 680.0,1019.3 681.0,1018.9 682.0,1019.1 683.0,1020.0 684.0,1019.5 685.0,1019.5 686.0,1019.9 687.0,1018.9 688.0,1019.6 689.0,1019.2 690.0,1019.4 691.0,1019.2 692.0,1019.4 693.0,1019.8 694.0,1019.8 695.0,1019.5 696.0,1019.6 697.0,1019.0 698.0,1018.5 699.0,1019.7 700.0,1020.0 701.0,1019.5 702.0,1019.2 703.0,1019.4 704.0,1019.8 705.0,1019.0 706.0,1019.4 707.0,1019.6 708.0,1019.1 709.0,1020.0 710.0,1019.6 711.0,1019.9" fill="none" stroke="#ea0000" stroke-width="3.3" stroke-linejoin="round" stroke-linecap="round"/>
<polyline points="174.0,1020.2 175.0,1020.3 176.0,1020.3 177.0,1020.6 178.0,1020.4 179.0,1020.5 180.0,1020.8 181.0,1020.8 182.0,1020.6 183.0,1020.4 184.0,1020.3 185.0,1020.3 186.0,1020.4 187.0,1020.5 188.0,1020.2 189.0,1020.2 190.0,1020.6 191.0,1019.9 192.0,1020.4 193.0,1020.6 194.0,1020.2 195.0,1020.2 196.0,1020.3 197.0,1020.7 198.0,1020.5 199.0,1019.9 200.0,1020.4 201.0,1020.8 202.0,1020.8 203.0,1020.7 204.0,1020.4 205.0,1019.9 206.0,1020.5 207.0,1020.4 208.0,1020.5 209.0,1020.9 210.0,1020.5 211.0,1020.5 212.0,1020.6 213.0,1020.4 214.0,1020.3 215.0,1020.2 216.0,1020.7 217.0,1020.6 218.0,1020.3 219.0,1020.8 220.0,1020.5 221.0,1020.0 222.0,1020.6 223.0,1020.4 224.0,1020.0 225.0,1020.6 226.0,1020.3 227.0,1020.3 228.0,1020.6 229.0,1019.7 230.0,1020.0 231.0,1020.3 232.0,1020.5 233.0,1020.2 234.0,1020.1 235.0,1020.1 236.0,1020.3 237.0,1020.6 238.0,1019.9 239.0,1019.7 240.0,1020.2 241.0,1020.2 242.0,1020.1 243.0,1020.5 244.0,1020.5 245.0,1020.1 246.0,1020.0 247.0,1019.9 248.0,1019.2 249.0,1018.8 250.0,1019.2 251.0,1018.9 252.0,1019.3 253.0,1019.0 254.0,1019.1 255.0,1019.4 256.0,1019.2 257.0,1019.0 258.0,1018.9 259.0,1019.7 260.0,1019.5 261.0,1018.7 262.0,1018.9 263.0,1019.4 264.0,1019.0 265.0,1019.2 266.0,1019.4 267.0,1019.2 268.0,1019.2 269.0,1019.1 270.0,1019.2 271.0,1019.3 272.0,1019.7 273.0,1019.5 274.0,1019.1 275.0,1019.5 276.0,1019.2 277.0,1018.8 278.0,1019.2 279.0,1019.5 280.0,1019.0 281.0,1019.5 282.0,1019.1 283.0,1019.2 284.0,1018.8 285.0,1019.8 286.0,1019.3 287.0,1019.5 288.0,1019.1 289.0,1018.8 290.0,1019.6 291.0,1019.0 292.0,1019.9 293.0,1019.7 294.0,1020.6 295.0,1020.2 296.0,1020.0 297.0,1020.7 298.0,1020.5 299.0,1020.5 300.0,1020.8 301.0,1020.2 302.0,1020.1 303.0,1020.1 304.0,1020.0 305.0,1020.0 306.0,1020.1 307.0,1020.2 308.0,1020.4 309.0,1020.1 310.3,1020.5 310.3,1025.0 310.3,1020.5 311.0,1020.7 312.0,1020.4 313.0,1020.6 314.0,1020.2 315.0,1020.6 316.0,1020.6 317.0,1020.3 318.0,1020.0 319.0,1020.4 320.0,1020.5 321.0,1020.9 322.0,1020.3 323.0,1020.9 324.0,1019.7 325.0,1020.4 326.0,1020.3 327.0,1020.3 328.0,1020.3 329.0,1020.4 330.0,1020.9 331.0,1020.4 332.0,1020.8 333.0,1020.4 334.0,1020.5 335.0,1019.7 336.0,1020.5 337.0,1020.6 338.0,1020.1 339.0,1020.3 340.0,1020.2 341.0,1021.1 342.0,1020.1 343.0,1020.2 344.0,1019.6 345.0,1020.0 346.0,1020.5 347.0,1020.1 348.0,1019.6 349.0,1020.4 350.0,1020.5 351.0,1020.5 352.0,1020.5 353.0,1020.3 354.0,1021.3 355.0,1020.3 356.0,1020.6 357.0,1020.1 358.0,1020.3 359.0,1020.0 360.0,1020.5 361.0,1020.3 362.0,1020.1 363.0,1019.8 364.0,1020.6 365.0,1020.7 366.0,1020.7 367.0,1020.4 368.0,1020.6 369.0,1020.7 370.0,1020.6 371.0,1020.9 372.0,1020.4 373.0,1020.5 374.0,1020.0 375.0,1021.1 376.0,1020.2 377.0,1020.5 378.0,1020.6 379.0,1020.2 380.0,1020.4 381.0,1020.7 382.0,1020.4 383.0,1020.4 384.0,1020.4 385.0,1020.2 386.0,1020.3 387.0,1020.4 388.0,1020.2 389.0,1020.2 390.0,1019.7 391.0,1019.3 392.0,1019.4 393.0,1019.0 394.0,1018.9 395.0,1018.4 396.0,1018.2 397.0,1017.9 398.0,1017.8 399.0,1017.0 400.0,1017.1 401.0,1017.0 402.0,1017.3 403.0,1016.6 404.0,1016.7 405.0,1016.4 406.0,1015.8 407.0,1016.7 408.0,1016.5 409.0,1016.6 410.0,1015.8 411.0,1016.3 412.0,1016.2 413.0,1015.6 414.0,1016.2 415.0,1015.8 416.0,1016.0 417.0,1015.3 418.0,1015.4 419.0,1015.3 420.0,1014.8 421.0,1014.6 422.0,1013.9 423.0,1012.2 424.0,1011.0 425.0,1010.0 426.0,1008.4 427.0,1006.8 428.0,1004.9 429.0,1004.1 430.0,1002.4 431.0,1000.8 432.0,999.5 433.0,997.5 434.0,994.8 435.0,993.4 436.0,991.7 437.0,991.2 438.0,990.9 439.0,991.8 440.0,992.5 441.0,994.1 442.0,995.8 443.0,997.6 444.0,999.1 445.0,1001.2 446.0,1002.5 447.0,1004.7 448.0,1006.2 449.0,1007.8 450.0,1009.4 451.0,1010.2 452.0,1011.7 453.0,1012.3 454.0,1013.2 455.0,1014.2 456.0,1015.1 457.0,1014.8 458.0,1014.6 459.0,1015.3 460.0,1015.5 461.0,1016.0 462.0,1015.7 463.0,1015.6 464.0,1016.2 465.0,1016.3 466.0,1016.0 467.0,1016.2 468.0,1016.3 469.0,1017.0 470.0,1016.1 471.0,1016.3 472.0,1016.4 473.0,1016.8 474.0,1016.6 475.0,1017.0 476.0,1017.2 477.0,1017.7 478.0,1017.4 479.0,1017.6 480.0,1017.9 481.0,1017.8 482.0,1018.3 483.0,1019.1 484.0,1019.4 485.0,1020.5 486.0,1020.5 487.0,1020.8 488.0,1021.3 489.0,1021.1 490.0,1021.4 491.0,1021.7 492.0,1022.1 493.0,1023.0 494.0,1022.5 495.0,1022.5 496.0,1022.9 497.0,1023.2 498.0,1023.2 499.0,1023.5 500.0,1023.0 501.0,1023.2 502.0,1023.5 503.0,1023.7 504.0,1024.1 505.0,1023.4 506.0,1024.1 507.0,1023.9 508.0,1024.1 509.0,1023.8 510.0,1023.6 511.0,1024.3 512.0,1024.1 513.0,1023.4 514.0,1024.2 515.0,1023.7 516.0,1024.0 517.0,1024.0 518.0,1023.6 519.0,1024.3 520.0,1023.9 521.0,1024.5 522.0,1024.2 523.0,1024.2 524.0,1024.1 525.0,1024.6 526.0,1023.7 527.0,1023.8 528.0,1023.8 529.0,1024.4 530.0,1024.4 531.0,1024.1 532.0,1024.1 533.0,1023.6 534.0,1024.5 535.0,1024.0 536.0,1024.1 537.0,1024.0 538.0,1024.3 539.0,1024.0 540.0,1024.1 541.0,1024.1 542.0,1023.9 543.0,1023.9 544.0,1024.2 545.0,1024.2 546.0,1024.3 547.0,1024.5 548.0,1023.7 549.0,1023.5 550.0,1024.0 551.0,1024.5 552.0,1024.1 553.0,1023.5 554.0,1024.6 555.0,1024.2 556.0,1023.7 557.0,1023.9 558.0,1024.1 559.0,1023.9 560.0,1024.1 561.0,1024.3 562.0,1024.1 563.0,1024.5 564.0,1024.1 565.0,1024.6 566.0,1023.9 567.0,1023.8 568.0,1023.5 569.0,1023.9 570.0,1024.1 571.0,1024.4 572.0,1023.1 573.0,1024.1 574.0,1023.8 575.0,1024.3 576.0,1024.0 577.0,1024.2 578.0,1024.7 579.0,1024.2 580.0,1024.1 581.0,1024.4 582.0,1024.2 583.0,1024.1 584.0,1023.7 585.0,1024.0 586.0,1023.6 587.0,1024.2 588.0,1024.3 589.0,1024.2 590.0,1024.7 591.0,1023.8 592.0,1024.3 593.0,1024.2 594.0,1023.8 595.0,1024.3 596.0,1024.4 597.0,1024.5 598.0,1024.1 599.0,1024.3 600.0,1024.0 601.0,1024.6 602.0,1024.7 603.0,1024.2 604.0,1024.2 605.0,1023.8 606.0,1024.2 607.0,1024.1 608.0,1024.2 609.0,1023.7 610.0,1024.7 611.0,1024.2 612.0,1024.5 613.0,1024.3 614.0,1024.1 615.0,1024.7 616.0,1024.5 617.0,1023.7 618.0,1024.2 619.0,1024.1 620.0,1023.9 621.0,1024.8 622.0,1023.8 623.0,1024.6 624.0,1023.7 625.0,1024.6 626.0,1024.0 627.0,1023.5 628.0,1024.3 629.0,1024.3 630.0,1023.9 631.0,1024.5 632.0,1023.7 633.0,1024.5 634.0,1024.4 635.0,1024.7 636.0,1024.1 637.0,1024.5 638.0,1024.0 639.0,1024.4 640.0,1024.3 641.0,1024.4 642.0,1023.8 643.0,1024.3 644.0,1024.3 645.0,1024.6 646.0,1024.1 647.0,1024.1 648.0,1024.4 649.0,1024.4 650.0,1023.4 651.0,1024.1 652.0,1024.5 653.0,1024.1 654.0,1023.6 655.0,1024.1 656.0,1024.2 657.0,1023.9 658.0,1024.2 659.0,1023.9 660.0,1024.1 661.0,1024.2 662.0,1024.7 663.0,1024.3 664.0,1024.6 665.0,1024.3 666.0,1023.9 667.0,1023.9 668.0,1024.4 669.0,1023.7 670.0,1023.7 671.0,1024.5 672.0,1024.0 673.0,1023.9 674.0,1024.7 675.0,1023.9 676.0,1024.4 677.0,1024.2 678.0,1024.2 679.0,1024.2 680.0,1024.5 681.0,1024.6 682.0,1023.9 683.0,1024.7 684.0,1024.1 685.0,1024.1 686.0,1024.4 687.0,1024.0 688.0,1023.9 689.0,1024.6 690.0,1024.0 691.0,1023.6 692.0,1023.2 693.0,1024.3 694.0,1024.2 695.0,1024.7 696.0,1023.8 697.0,1023.8 698.0,1024.2 699.0,1024.6 700.0,1024.6 701.0,1024.2 702.0,1024.0 703.0,1024.2 704.0,1024.7 705.0,1024.2 706.0,1024.1 707.0,1024.3 708.0,1024.3 709.0,1024.2 710.0,1024.8 711.0,1024.4" fill="none" stroke="#0000ea" stroke-width="3.3" stroke-linejoin="round" stroke-linecap="round"/>
<rect x="138.40" y="15.50" width="607.00" height="1011.70" fill="none" stroke="#000" stroke-width="3"/>
<line x1="138.40" y1="217.80" x2="745.40" y2="217.80" stroke="#000" stroke-width="3" stroke-linecap="butt"/>
<line x1="138.40" y1="420.10" x2="745.40" y2="420.10" stroke="#000" stroke-width="3" stroke-linecap="butt"/>
<line x1="138.40" y1="622.40" x2="745.40" y2="622.40" stroke="#000" stroke-width="3" stroke-linecap="butt"/>
<line x1="138.40" y1="824.60" x2="745.40" y2="824.60" stroke="#000" stroke-width="3" stroke-linecap="butt"/>
<line x1="290.15" y1="15.50" x2="290.15" y2="21.70" stroke="#000" stroke-width="3" stroke-linecap="butt"/>
<line x1="290.15" y1="217.80" x2="290.15" y2="211.60" stroke="#000" stroke-width="3" stroke-linecap="butt"/>
<line x1="441.90" y1="15.50" x2="441.90" y2="21.70" stroke="#000" stroke-width="3" stroke-linecap="butt"/>
<line x1="441.90" y1="217.80" x2="441.90" y2="211.60" stroke="#000" stroke-width="3" stroke-linecap="butt"/>
<line x1="593.65" y1="15.50" x2="593.65" y2="21.70" stroke="#000" stroke-width="3" stroke-linecap="butt"/>
<line x1="593.65" y1="217.80" x2="593.65" y2="211.60" stroke="#000" stroke-width="3" stroke-linecap="butt"/>
<line x1="138.40" y1="116.65" x2="144.60" y2="116.65" stroke="#000" stroke-width="3" stroke-linecap="butt"/>
<line x1="745.40" y1="116.65" x2="739.20" y2="116.65" stroke="#000" stroke-width="3" stroke-linecap="butt"/>
<line x1="290.15" y1="217.80" x2="290.15" y2="224.00" stroke="#000" stroke-width="3" stroke-linecap="butt"/>
<line x1="290.15" y1="420.10" x2="290.15" y2="413.90" stroke="#000" stroke-width="3" stroke-linecap="butt"/>
<line x1="441.90" y1="217.80" x2="441.90" y2="224.00" stroke="#000" stroke-width="3" stroke-linecap="butt"/>
<line x1="441.90" y1="420.10" x2="441.90" y2="413.90" stroke="#000" stroke-width="3" stroke-linecap="butt"/>
<line x1="593.65" y1="217.80" x2="593.65" y2="224.00" stroke="#000" stroke-width="3" stroke-linecap="butt"/>
<line x1="593.65" y1="420.10" x2="593.65" y2="413.90" stroke="#000" stroke-width="3" stroke-linecap="butt"/>
<line x1="138.40" y1="318.95" x2="144.60" y2="318.95" stroke="#000" stroke-width="3" stroke-linecap="butt"/>
<line x1="745.40" y1="318.95" x2="739.20" y2="318.95" stroke="#000" stroke-width="3" stroke-linecap="butt"/>
<line x1="290.15" y1="420.10" x2="290.15" y2="426.30" stroke="#000" stroke-width="3" stroke-linecap="butt"/>
<line x1="290.15" y1="622.40" x2="290.15" y2="616.20" stroke="#000" stroke-width="3" stroke-linecap="butt"/>
<line x1="441.90" y1="420.10" x2="441.90" y2="426.30" stroke="#000" stroke-width="3" stroke-linecap="butt"/>
<line x1="441.90" y1="622.40" x2="441.90" y2="616.20" stroke="#000" stroke-width="3" stroke-linecap="butt"/>
<line x1="593.65" y1="420.10" x2="593.65" y2="426.30" stroke="#000" stroke-width="3" stroke-linecap="butt"/>
<line x1="593.65" y1="622.40" x2="593.65" y2="616.20" stroke="#000" stroke-width="3" stroke-linecap="butt"/>
<line x1="138.40" y1="521.25" x2="144.60" y2="521.25" stroke="#000" stroke-width="3" stroke-linecap="butt"/>
<line x1="745.40" y1="521.25" x2="739.20" y2="521.25" stroke="#000" stroke-width="3" stroke-linecap="butt"/>
<line x1="290.15" y1="622.40" x2="290.15" y2="628.60" stroke="#000" stroke-width="3" stroke-linecap="butt"/>
<line x1="290.15" y1="824.60" x2="290.15" y2="818.40" stroke="#000" stroke-width="3" stroke-linecap="butt"/>
<line x1="441.90" y1="622.40" x2="441.90" y2="628.60" stroke="#000" stroke-width="3" stroke-linecap="butt"/>
<line x1="441.90" y1="824.60" x2="441.90" y2="818.40" stroke="#000" stroke-width="3" stroke-linecap="butt"/>
<line x1="593.65" y1="622.40" x2="593.65" y2="628.60" stroke="#000" stroke-width="3" stroke-linecap="butt"/>
<line x1="593.65" y1="824.60" x2="593.65" y2="818.40" stroke="#000" stroke-width="3" stroke-linecap="butt"/>
<line x1="138.40" y1="723.50" x2="144.60" y2="723.50" stroke="#000" stroke-width="3" stroke-linecap="butt"/>
<line x1="745.40" y1="723.50" x2="739.20" y2="723.50" stroke="#000" stroke-width="3" stroke-linecap="butt"/>
<line x1="290.15" y1="824.60" x2="290.15" y2="830.80" stroke="#000" stroke-width="3" stroke-linecap="butt"/>
<line x1="290.15" y1="1027.20" x2="290.15" y2="1021.00" stroke="#000" stroke-width="3" stroke-linecap="butt"/>
<line x1="441.90" y1="824.60" x2="441.90" y2="830.80" stroke="#000" stroke-width="3" stroke-linecap="butt"/>
<line x1="441.90" y1="1027.20" x2="441.90" y2="1021.00" stroke="#000" stroke-width="3" stroke-linecap="butt"/>
<line x1="593.65" y1="824.60" x2="593.65" y2="830.80" stroke="#000" stroke-width="3" stroke-linecap="butt"/>
<line x1="593.65" y1="1027.20" x2="593.65" y2="1021.00" stroke="#000" stroke-width="3" stroke-linecap="butt"/>
<line x1="138.40" y1="925.90" x2="144.60" y2="925.90" stroke="#000" stroke-width="3" stroke-linecap="butt"/>
<line x1="745.40" y1="925.90" x2="739.20" y2="925.90" stroke="#000" stroke-width="3" stroke-linecap="butt"/>
<text transform="translate(107.74,33.30) scale(0.84,1.025)" font-size="46.3" fill="#000" stroke="#000" stroke-width="0.7">1</text>
<text transform="translate(107.74,236.10) scale(0.84,1.025)" font-size="46.3" fill="#000" stroke="#000" stroke-width="0.7">1</text>
<text transform="translate(107.74,440.00) scale(0.84,1.025)" font-size="46.3" fill="#000" stroke="#000" stroke-width="0.7">1</text>
<text transform="translate(107.74,644.00) scale(0.84,1.025)" font-size="46.3" fill="#000" stroke="#000" stroke-width="0.7">1</text>
<text transform="translate(107.74,844.80) scale(0.84,1.025)" font-size="46.3" fill="#000" stroke="#000" stroke-width="0.7">1</text>
<text transform="translate(72.23,128.60) scale(1.0,1.025)" font-size="46.3" fill="#000" stroke="#000" stroke-width="0.7">0.5</text>
<text transform="translate(72.23,331.30) scale(1.0,1.025)" font-size="46.3" fill="#000" stroke="#000" stroke-width="0.7">0.5</text>
<text transform="translate(72.23,535.40) scale(1.0,1.025)" font-size="46.3" fill="#000" stroke="#000" stroke-width="0.7">0.5</text>
<text transform="translate(72.23,739.40) scale(1.0,1.025)" font-size="46.3" fill="#000" stroke="#000" stroke-width="0.7">0.5</text>
<text transform="translate(72.23,940.20) scale(1.0,1.025)" font-size="46.3" fill="#000" stroke="#000" stroke-width="0.7">0.5</text>
<text transform="translate(112.07,1069.20) scale(1.0,1.025)" font-size="46.3" fill="#000" stroke="#000" stroke-width="0.7">275</text>
<text transform="translate(254.28,1069.20) scale(1.0,1.025)" font-size="46.3" fill="#000" stroke="#000" stroke-width="0.7">300</text>
<text transform="translate(406.08,1069.20) scale(1.0,1.025)" font-size="46.3" fill="#000" stroke="#000" stroke-width="0.7">325</text>
<text transform="translate(559.78,1069.20) scale(1.0,1.025)" font-size="46.3" fill="#000" stroke="#000" stroke-width="0.7">350</text>
<text transform="translate(698.78,1069.20) scale(1.0,1.025)" font-size="46.3" fill="#000" stroke="#000" stroke-width="0.7">375</text>
<text transform="translate(250.30,1125.00) scale(1.0,1.025)" font-size="46.3" fill="#000" stroke="#000" stroke-width="0.7">SH wavelength (nm)</text>
<text transform="translate(40.80,659.77) rotate(-90) scale(1,1.0)" font-size="46.3" fill="#000" stroke="#000" stroke-width="0.7">Intensity (a.u.)</text>
<text transform="translate(-1.55,41.00) scale(1.0,1.025)" font-size="46.3" fill="#000" stroke="#000" stroke-width="0.7">(a)</text>
<line x1="174.10" y1="51.10" x2="208.00" y2="51.10" stroke="#dd0000" stroke-width="3.2" stroke-linecap="butt"/>
<line x1="174.10" y1="94.40" x2="208.00" y2="94.40" stroke="#0000c8" stroke-width="3.2" stroke-linecap="butt"/>
<text transform="translate(218.26,62.20) scale(1.0,1.017)" font-size="39.7" fill="#1a1a1a" stroke="#1a1a1a" stroke-width="0.7">BBO-LN</text>
<text transform="translate(218.26,106.70) scale(1.0,1.017)" font-size="39.7" fill="#1a1a1a" stroke="#1a1a1a" stroke-width="0.7">BBO</text>
<text transform="translate(531.54,88.20) scale(1.0,1.025)" font-size="46.3" fill="#000" stroke="#000" stroke-width="0.7">α=61.78°</text>
<text transform="translate(531.54,292.20) scale(1.0,1.025)" font-size="46.3" fill="#000" stroke="#000" stroke-width="0.7">α=62.17°</text>
<text transform="translate(531.54,491.50) scale(1.0,1.025)" font-size="46.3" fill="#000" stroke="#000" stroke-width="0.7">α=62.92°</text>
<text transform="translate(531.54,694.20) scale(1.0,1.025)" font-size="46.3" fill="#000" stroke="#000" stroke-width="0.7">α=63.78°</text>
<text transform="translate(531.54,896.20) scale(1.0,1.025)" font-size="46.3" fill="#000" stroke="#000" stroke-width="0.7">α=68.34°</text>
<rect x="925.30" y="13.80" width="560.00" height="418.80" fill="none" stroke="#000" stroke-width="3"/>
<line x1="1037.30" y1="13.80" x2="1037.30" y2="19.40" stroke="#000" stroke-width="3" stroke-linecap="butt"/>
<line x1="1037.30" y1="432.60" x2="1037.30" y2="427.00" stroke="#000" stroke-width="3" stroke-linecap="butt"/>
<line x1="1149.30" y1="13.80" x2="1149.30" y2="19.40" stroke="#000" stroke-width="3" stroke-linecap="butt"/>
<line x1="1149.30" y1="432.60" x2="1149.30" y2="427.00" stroke="#000" stroke-width="3" stroke-linecap="butt"/>
<line x1="1261.30" y1="13.80" x2="1261.30" y2="19.40" stroke="#000" stroke-width="3" stroke-linecap="butt"/>
<line x1="1261.30" y1="432.60" x2="1261.30" y2="427.00" stroke="#000" stroke-width="3" stroke-linecap="butt"/>
<line x1="1373.30" y1="13.80" x2="1373.30" y2="19.40" stroke="#000" stroke-width="3" stroke-linecap="butt"/>
<line x1="1373.30" y1="432.60" x2="1373.30" y2="427.00" stroke="#000" stroke-width="3" stroke-linecap="butt"/>
<rect x="925.30" y="605.70" width="560.00" height="419.80" fill="none" stroke="#000" stroke-width="3"/>
<line x1="1037.30" y1="605.70" x2="1037.30" y2="611.30" stroke="#000" stroke-width="3" stroke-linecap="butt"/>
<line x1="1037.30" y1="1025.50" x2="1037.30" y2="1019.90" stroke="#000" stroke-width="3" stroke-linecap="butt"/>
<line x1="1149.30" y1="605.70" x2="1149.30" y2="611.30" stroke="#000" stroke-width="3" stroke-linecap="butt"/>
<line x1="1149.30" y1="1025.50" x2="1149.30" y2="1019.90" stroke="#000" stroke-width="3" stroke-linecap="butt"/>
<line x1="1261.30" y1="605.70" x2="1261.30" y2="611.30" stroke="#000" stroke-width="3" stroke-linecap="butt"/>
<line x1="1261.30" y1="1025.50" x2="1261.30" y2="1019.90" stroke="#000" stroke-width="3" stroke-linecap="butt"/>
<line x1="1373.30" y1="605.70" x2="1373.30" y2="611.30" stroke="#000" stroke-width="3" stroke-linecap="butt"/>
<line x1="1373.30" y1="1025.50" x2="1373.30" y2="1019.90" stroke="#000" stroke-width="3" stroke-linecap="butt"/>
<line x1="925.30" y1="348.84" x2="930.90" y2="348.84" stroke="#000" stroke-width="3" stroke-linecap="butt"/>
<line x1="1485.30" y1="348.84" x2="1479.70" y2="348.84" stroke="#000" stroke-width="3" stroke-linecap="butt"/>
<line x1="925.30" y1="265.08" x2="930.90" y2="265.08" stroke="#000" stroke-width="3" stroke-linecap="butt"/>
<line x1="1485.30" y1="265.08" x2="1479.70" y2="265.08" stroke="#000" stroke-width="3" stroke-linecap="butt"/>
<line x1="925.30" y1="181.32" x2="930.90" y2="181.32" stroke="#000" stroke-width="3" stroke-linecap="butt"/>
<line x1="1485.30" y1="181.32" x2="1479.70" y2="181.32" stroke="#000" stroke-width="3" stroke-linecap="butt"/>
<line x1="925.30" y1="97.56" x2="930.90" y2="97.56" stroke="#000" stroke-width="3" stroke-linecap="butt"/>
<line x1="1485.30" y1="97.56" x2="1479.70" y2="97.56" stroke="#000" stroke-width="3" stroke-linecap="butt"/>
<line x1="925.30" y1="885.57" x2="930.90" y2="885.57" stroke="#000" stroke-width="3" stroke-linecap="butt"/>
<line x1="1485.30" y1="885.57" x2="1479.70" y2="885.57" stroke="#000" stroke-width="3" stroke-linecap="butt"/>
<line x1="925.30" y1="745.63" x2="930.90" y2="745.63" stroke="#000" stroke-width="3" stroke-linecap="butt"/>
<line x1="1485.30" y1="745.63" x2="1479.70" y2="745.63" stroke="#000" stroke-width="3" stroke-linecap="butt"/>
<polyline points="925.3,384.2 934.8,377.7 944.3,371.3 953.8,364.9 963.3,358.5 972.8,352.1 982.2,345.7 991.7,339.3 1001.2,333.0 1010.7,326.6 1020.2,320.3 1029.7,313.9 1039.2,307.6 1048.7,301.3 1058.2,295.1 1067.7,288.8 1077.2,282.5 1086.7,276.3 1096.1,270.0 1105.6,263.8 1115.1,257.6 1124.6,251.4 1134.1,245.2 1143.6,239.0 1153.1,232.9 1162.6,226.7 1172.1,220.6 1181.6,214.5 1191.1,208.4 1200.6,202.3 1210.0,196.2 1219.5,190.1 1229.0,184.1 1238.5,178.0 1248.0,172.0 1257.5,165.9 1267.0,159.9 1276.5,153.9 1286.0,147.9 1295.5,142.0 1305.0,136.0 1314.5,130.1 1323.9,124.1 1333.4,118.2 1342.9,112.3 1352.4,106.4 1361.9,100.5 1371.4,94.6 1380.9,88.8 1390.4,82.9 1399.9,77.1 1409.4,71.3 1418.9,65.4 1428.4,59.6 1437.8,53.9 1447.3,48.1 1456.8,42.3 1466.3,36.6 1475.8,30.8 1485.3,25.1" fill="none" stroke="#000" stroke-width="3" stroke-linejoin="round" stroke-linecap="round"/>
<circle cx="1024.98" cy="325.00" r="6.0" fill="none" stroke="#e60000" stroke-width="3.1"/>
<circle cx="1046.82" cy="287.50" r="6.0" fill="none" stroke="#e60000" stroke-width="3.1"/>
<circle cx="1088.82" cy="309.30" r="6.0" fill="none" stroke="#e60000" stroke-width="3.1"/>
<circle cx="1136.98" cy="263.50" r="6.0" fill="none" stroke="#e60000" stroke-width="3.1"/>
<circle cx="1392.34" cy="56.60" r="6.0" fill="none" stroke="#e60000" stroke-width="3.1"/>
<line x1="960.60" y1="61.40" x2="995.50" y2="61.40" stroke="#000" stroke-width="3" stroke-linecap="butt"/>
<circle cx="978.10" cy="111.50" r="5.7" fill="none" stroke="#e60000" stroke-width="2.9"/>
<text transform="translate(1000.52,73.20) scale(1.0,1.02)" font-size="40.1" fill="#000" stroke="#000" stroke-width="0.7">Simulation</text>
<text transform="translate(1002.06,122.50) scale(1.0,1.02)" font-size="39.6" fill="#000" stroke="#000" stroke-width="0.7">Experimental data</text>
<text transform="translate(946.97,401.30) scale(1.0,1.025)" font-size="46.3" fill="#000" stroke="#000" stroke-width="0.7">(b)</text>
<polyline points="1025.0,889.0 1046.8,820.4 1088.8,699.4 1137.0,865.3 1392.3,879.4" fill="none" stroke="#ee0000" stroke-width="3.3" stroke-linejoin="miter" stroke-linecap="round"/>
<circle cx="1024.98" cy="889.00" r="6.8" fill="none" stroke="#ee0000" stroke-width="3.2"/>
<circle cx="1046.82" cy="820.40" r="6.8" fill="none" stroke="#ee0000" stroke-width="3.2"/>
<circle cx="1088.82" cy="699.40" r="6.8" fill="none" stroke="#ee0000" stroke-width="3.2"/>
<circle cx="1136.98" cy="865.30" r="6.8" fill="none" stroke="#ee0000" stroke-width="3.2"/>
<circle cx="1392.34" cy="879.40" r="6.8" fill="none" stroke="#ee0000" stroke-width="3.2"/>
<text transform="translate(946.97,664.50) scale(1.0,1.025)" font-size="46.3" fill="#000" stroke="#000" stroke-width="0.7">(c)</text>
<text transform="translate(873.78,31.00) scale(1.0,1.025)" font-size="46.3" fill="#000" stroke="#000" stroke-width="0.7">66</text>
<text transform="translate(873.12,112.30) scale(1.0,1.025)" font-size="46.3" fill="#000" stroke="#000" stroke-width="0.7">64</text>
<text transform="translate(874.95,195.30) scale(1.0,1.025)" font-size="46.3" fill="#000" stroke="#000" stroke-width="0.7">62</text>
<text transform="translate(874.16,279.70) scale(1.0,1.025)" font-size="46.3" fill="#000" stroke="#000" stroke-width="0.7">60</text>
<text transform="translate(874.16,360.10) scale(1.0,1.025)" font-size="46.3" fill="#000" stroke="#000" stroke-width="0.7">58</text>
<text transform="translate(873.78,441.00) scale(1.0,1.025)" font-size="46.3" fill="#000" stroke="#000" stroke-width="0.7">56</text>
<text transform="translate(906.01,477.00) scale(1.0,1.025)" font-size="46.3" fill="#000" stroke="#000" stroke-width="0.7">60</text>
<text transform="translate(1011.61,477.00) scale(1.0,1.025)" font-size="46.3" fill="#000" stroke="#000" stroke-width="0.7">62</text>
<text transform="translate(1123.61,477.00) scale(1.0,1.025)" font-size="46.3" fill="#000" stroke="#000" stroke-width="0.7">64</text>
<text transform="translate(1236.41,477.00) scale(1.0,1.025)" font-size="46.3" fill="#000" stroke="#000" stroke-width="0.7">66</text>
<text transform="translate(1348.41,477.00) scale(1.0,1.025)" font-size="46.3" fill="#000" stroke="#000" stroke-width="0.7">68</text>
<text transform="translate(1451.35,477.00) scale(1.0,1.025)" font-size="46.3" fill="#000" stroke="#000" stroke-width="0.7">70</text>
<text transform="translate(923.38,534.20) scale(1.0,1.025)" font-size="46.3" fill="#000" stroke="#000" stroke-width="0.7">Internal FW incident angle (°)</text>
<text transform="translate(840.80,411.67) rotate(-90) scale(1,1.0)" font-size="46.3" fill="#000" stroke="#000" stroke-width="0.7">Internal SH angle (°)</text>
<text transform="translate(872.21,625.60) scale(1.0,1.025)" font-size="46.3" fill="#000" stroke="#000" stroke-width="0.7">15</text>
<text transform="translate(873.56,759.10) scale(1.0,1.025)" font-size="46.3" fill="#000" stroke="#000" stroke-width="0.7">10</text>
<text transform="translate(889.66,898.00) scale(1.0,1.025)" font-size="46.3" fill="#000" stroke="#000" stroke-width="0.7">5</text>
<text transform="translate(891.11,1025.80) scale(1.0,1.025)" font-size="46.3" fill="#000" stroke="#000" stroke-width="0.7">0</text>
<text transform="translate(908.01,1068.00) scale(1.0,1.025)" font-size="46.3" fill="#000" stroke="#000" stroke-width="0.7">60</text>
<text transform="translate(1013.61,1068.00) scale(1.0,1.025)" font-size="46.3" fill="#000" stroke="#000" stroke-width="0.7">62</text>
<text transform="translate(1125.61,1068.00) scale(1.0,1.025)" font-size="46.3" fill="#000" stroke="#000" stroke-width="0.7">64</text>
<text transform="translate(1238.41,1068.00) scale(1.0,1.025)" font-size="46.3" fill="#000" stroke="#000" stroke-width="0.7">66</text>
<text transform="translate(1350.41,1068.00) scale(1.0,1.025)" font-size="46.3" fill="#000" stroke="#000" stroke-width="0.7">68</text>
<text transform="translate(1453.35,1068.00) scale(1.0,1.025)" font-size="46.3" fill="#000" stroke="#000" stroke-width="0.7">70</text>
<text transform="translate(925.33,1125.00) scale(1.0,1.025)" font-size="46.3" fill="#000" stroke="#000" stroke-width="0.7">Internal FW incident angle (°)</text>
<text transform="translate(842.60,996.43) rotate(-90) scale(1,1.0)" font-size="46.3" fill="#000" stroke="#000" stroke-width="0.7">Enhancement factor</text>
</svg></body></html>
